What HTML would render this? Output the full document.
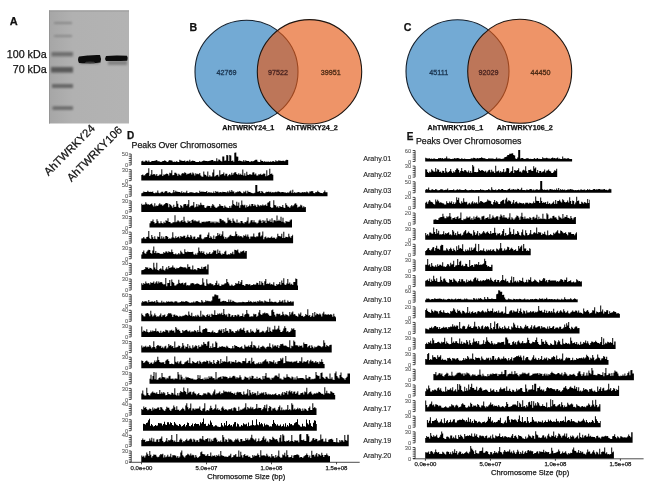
<!DOCTYPE html>
<html><head><meta charset="utf-8"><style>
html,body{margin:0;padding:0;background:#fff;}
body{width:650px;height:491px;overflow:hidden;}
svg{display:block;filter:blur(0.45px);}
text{font-family:"Liberation Sans",sans-serif;}
.pl{font-size:11px;font-weight:bold;fill:#111;}
.pl2{font-size:10px;font-weight:bold;fill:#111;}
.kda{font-size:10.7px;fill:#111;}
.rl{font-size:11.2px;}
.vn{font-size:7.2px;fill:#222;}
.vl{font-size:7.2px;font-weight:bold;fill:#111;}
.tt{font-size:8.8px;fill:#222;}
.chr{font-size:7.15px;fill:#2a2a2a;color:#2a2a2a;}
.yl{font-size:5.8px;fill:#555;color:#555;}
.xl{font-size:6px;fill:#444;}
.xt{font-size:7.6px;fill:#222;}
.ax{stroke:#000;stroke-width:0.7;}
path{fill:#000;}
.bd{fill:#0d0d0d;}
text{stroke:currentColor;stroke-width:0.25px;}
.pl,.pl2,.kda,.tt,.chr,.xt,.vl{color:#111;}
.chr{stroke-width:0.12px;}
.yl{stroke-width:0.05px;}
.xl{stroke-width:0.25px;}
.vn{stroke-width:0.3px;}
</style></head><body>
<svg width="650" height="491" viewBox="0 0 650 491">

<text x="9.8" y="24.8" class="pl">A</text>
<defs>
 <filter id="bl1" x="-20%" y="-50%" width="140%" height="200%"><feGaussianBlur stdDeviation="0.9"/></filter>
 <filter id="bl2" x="-20%" y="-50%" width="140%" height="200%"><feGaussianBlur stdDeviation="0.7"/></filter>
 <linearGradient id="blotg" x1="0" y1="0" x2="1" y2="0">
  <stop offset="0" stop-color="#a6a6a6"/><stop offset="0.3" stop-color="#b1b1b1"/><stop offset="1" stop-color="#b3b3b3"/>
 </linearGradient>
</defs>
<rect x="49" y="10.5" width="80" height="113" fill="url(#blotg)"/>
<rect x="49" y="10.5" width="80" height="0.8" fill="#8a8a8a"/>
<rect x="49" y="10.5" width="0.9" height="113" fill="#949494"/>
<g filter="url(#bl1)">
 <rect x="54" y="22" width="18" height="2" fill="#878787"/>
 <rect x="54" y="35" width="18" height="2" fill="#898989"/>
 <rect x="51.5" y="52" width="21.5" height="4.4" fill="#6e6e6e"/>
 <rect x="51" y="67" width="22" height="5.6" fill="#5a5a5a"/>
 <rect x="52" y="84" width="21" height="4" fill="#686868"/>
 <rect x="52.5" y="106.3" width="20.5" height="3.6" fill="#6c6c6c"/>
 <rect x="108" y="60.5" width="19" height="4.5" fill="#828282"/>
 <rect x="80" y="61" width="19" height="2.5" fill="#6a6a6a"/>
</g>
<g filter="url(#bl2)">
 <path class="bd" d="M79 56.6 Q89 54.8 100 55.1 Q101.6 58.5 100.5 62.4 Q90 63.8 79 63 Q77 59.8 79 56.6 Z"/>
 <path class="bd" d="M106 55.9 Q116 55 127 55.8 Q128.4 58.2 127.2 60.7 Q116 61.4 106 60.9 Q104.3 58.4 106 55.9 Z"/>
</g>
<ellipse cx="90" cy="62.3" rx="5" ry="0.9" fill="#3a3a3a" filter="url(#bl2)"/>
<text x="46.6" y="57.5" class="kda" text-anchor="end">100 kDa</text>
<text x="46.6" y="73.2" class="kda" text-anchor="end">70 kDa</text>
<text transform="translate(48.6,176.2) rotate(-45)" class="kda rl">AhTWRKY24</text>
<text transform="translate(71.4,182.2) rotate(-45)" class="kda rl">AhTWRKY106</text>

<text x="189.6" y="30.9" class="pl" style="font-size:10.6px">B</text>
<circle cx="246.5" cy="71.8" r="51.5" fill="#73aad4" stroke="#14202e" stroke-width="1.1"/>
<circle cx="309.5" cy="71.8" r="52.2" fill="rgb(229,90,23)" fill-opacity="0.65"/>
<circle cx="309.5" cy="71.8" r="52.2" fill="none" stroke="#1e1510" stroke-width="1.1"/>
<text x="226.4" y="74.9" class="vn" text-anchor="middle" style="fill:#1b3550;color:#1b3550">42769</text>
<text x="278.0" y="74.9" class="vn" text-anchor="middle" style="fill:#4a2420;color:#4a2420">97522</text>
<text x="330.7" y="74.9" class="vn" text-anchor="middle" style="fill:#4d2b15;color:#4d2b15">39951</text>
<text x="248.2" y="130.3" class="vl" text-anchor="middle">AhTWRKY24_1</text>
<text x="311.9" y="130.3" class="vl" text-anchor="middle">AhTWRKY24_2</text>
<text x="403.7" y="30.9" class="pl" style="font-size:10.6px">C</text>
<circle cx="457.5" cy="71.3" r="51.5" fill="#73aad4" stroke="#14202e" stroke-width="1.1"/>
<circle cx="519.7" cy="71.3" r="52.0" fill="rgb(229,90,23)" fill-opacity="0.65"/>
<circle cx="519.7" cy="71.3" r="52.0" fill="none" stroke="#1e1510" stroke-width="1.1"/>
<text x="438.8" y="74.9" class="vn" text-anchor="middle" style="fill:#1b3550;color:#1b3550">45111</text>
<text x="488.6" y="74.9" class="vn" text-anchor="middle" style="fill:#4a2420;color:#4a2420">92029</text>
<text x="540.4" y="74.9" class="vn" text-anchor="middle" style="fill:#4d2b15;color:#4d2b15">44450</text>
<text x="455.4" y="130.3" class="vl" text-anchor="middle">AhTWRKY106_1</text>
<text x="524.7" y="130.3" class="vl" text-anchor="middle">AhTWRKY106_2</text>
<text x="127" y="138.9" class="pl2">D</text>
<text x="131.6" y="147.6" class="tt">Peaks Over Chromosomes</text>
<text x="406.7" y="140.1" class="pl2">E</text>
<text x="415.9" y="144.4" class="tt">Peaks Over Chromosomes</text>
<path d="M141.3 165.0V161.3h1V160.8h1V161.7h1V161.4h1V160.4h1V160.8h1V161.8h1V160.6h1V161.8h1V162.0h1V161.1h1V161.1h1V160.9h1V160.8h1V160.6h1V160.1h1V161.2h1V161.2h1V161.4h1V161.9h1V161.8h1V161.1h1V161.1h1V160.2h1V161.0h1V161.7h1V162.0h1V160.7h1V160.0h1V160.6h1V160.6h1V161.4h1V161.9h1V161.6h1V162.0h1V161.1h1V161.9h1V162.1h1V159.7h1V160.6h1V160.8h1V160.9h1V161.0h1V160.4h1V161.8h1V160.9h1V160.7h1V161.5h1V159.8h1V161.6h1V161.1h1V160.6h1V161.0h1V161.0h1V161.9h1V162.0h1V162.1h1V162.0h1V161.0h1V161.9h1V161.5h1V161.0h1V160.6h1V160.8h1V161.0h1V161.1h1V161.2h1V161.0h1V160.8h1V160.6h1V160.0h1V159.9h1V161.2h1V161.1h1V161.2h1V158.3h1V161.2h1V159.5h1V159.7h1V161.0h1V161.4h1V156.6h1V156.5h1V160.7h1V160.6h1V155.1h1V155.3h1V161.0h1V155.1h1V155.4h1V161.0h1V160.6h1V161.8h1V152.8h1V152.6h1V156.6h1V156.8h1V161.1h1V160.4h1V161.1h1V161.2h1V161.5h1V160.1h1V161.6h1V160.2h1V161.0h1V161.0h1V161.0h1V161.9h1V161.5h1V161.0h1V161.5h1V161.1h1V160.2h1V159.8h1V159.7h1V161.6h1V162.0h1V162.1h1V159.7h1V161.1h1V161.0h1V161.9h1V161.1h1V161.9h1V161.4h1V161.7h1V161.4h1V162.0h1V161.3h1V161.9h1V160.9h1V161.3h1V161.9h1V160.2h1V161.3h1V161.2h1V160.2h1V160.7h1V160.7h1V161.0h1V160.8h1V160.7h1V161.3h1V160.2h1V159.8h1V160.1h0.9V165.0Z"/>
<line x1="131.2" y1="154.0" x2="131.2" y2="165.0" class="ax"/>
<line x1="128.8" y1="165.00" x2="131.2" y2="165.00" class="ax"/>
<line x1="128.8" y1="162.80" x2="131.2" y2="162.80" class="ax"/>
<line x1="128.8" y1="160.60" x2="131.2" y2="160.60" class="ax"/>
<line x1="128.8" y1="158.40" x2="131.2" y2="158.40" class="ax"/>
<line x1="128.8" y1="156.20" x2="131.2" y2="156.20" class="ax"/>
<line x1="128.8" y1="154.00" x2="131.2" y2="154.00" class="ax"/>
<text x="128.2" y="156.0" class="yl" text-anchor="end">50</text>
<text x="128.2" y="167.0" class="yl" text-anchor="end">0</text>
<text x="363.2" y="161.2" class="chr">Arahy.01</text>
<path d="M141.3 180.6V175.1h1V174.4h1V175.4h1V175.3h1V174.1h1V172.9h1V172.8h1V168.3h1V176.1h1V174.4h1V169.9h1V174.8h1V174.0h1V174.2h1V175.6h1V174.1h1V176.0h1V175.5h1V174.6h1V174.5h1V169.3h1V176.0h1V174.6h1V174.8h1V174.0h1V173.5h1V174.1h1V175.4h1V172.7h1V173.2h1V170.2h1V175.3h1V175.1h1V172.8h1V172.8h1V173.7h1V175.7h1V173.7h1V174.7h1V175.6h1V173.8h1V173.0h1V173.4h1V172.2h1V172.9h1V174.6h1V173.7h1V173.7h1V173.3h1V172.8h1V174.6h1V172.5h1V173.6h1V175.4h1V173.2h1V174.2h1V173.8h1V174.3h1V172.9h1V175.5h1V176.6h1V176.8h1V171.6h1V174.4h1V175.0h1V176.3h1V171.6h1V176.8h1V175.2h1V176.5h1V176.5h1V172.6h1V169.5h1V176.4h1V175.7h1V175.0h1V174.8h1V176.4h1V170.2h1V174.8h1V174.2h1V174.0h1V172.4h1V175.4h1V173.8h1V173.7h1V176.3h1V175.1h1V174.1h1V175.2h1V172.8h1V174.8h1V173.2h1V172.3h1V172.3h1V174.0h1V174.7h1V173.3h1V174.7h1V173.8h1V174.9h1V169.6h1V175.6h1V173.3h1V175.8h1V171.8h1V174.8h1V175.0h1V174.1h1V174.6h1V174.8h1V172.5h1V172.2h1V174.5h1V173.4h1V175.6h1V175.6h1V174.3h1V174.5h1V173.7h1V174.9h1V174.3h1V173.4h1V173.7h1V176.2h1V170.2h1V175.8h1V174.9h1V168.8h1V174.0h1V173.5h1V174.7h1V180.6Z"/>
<line x1="131.2" y1="169.6" x2="131.2" y2="180.6" class="ax"/>
<line x1="128.8" y1="180.63" x2="131.2" y2="180.63" class="ax"/>
<line x1="128.8" y1="178.43" x2="131.2" y2="178.43" class="ax"/>
<line x1="128.8" y1="176.23" x2="131.2" y2="176.23" class="ax"/>
<line x1="128.8" y1="174.03" x2="131.2" y2="174.03" class="ax"/>
<line x1="128.8" y1="171.83" x2="131.2" y2="171.83" class="ax"/>
<line x1="128.8" y1="169.63" x2="131.2" y2="169.63" class="ax"/>
<text x="128.2" y="171.6" class="yl" text-anchor="end">30</text>
<text x="128.2" y="182.6" class="yl" text-anchor="end">0</text>
<text x="363.2" y="176.8" class="chr">Arahy.02</text>
<path d="M141.3 196.3V193.2h1V192.8h1V191.6h1V191.9h1V191.9h1V192.0h1V190.7h1V191.7h1V191.9h1V191.8h1V192.0h1V191.4h1V192.9h1V193.2h1V192.6h1V192.7h1V190.6h1V192.8h1V193.2h1V192.5h1V191.7h1V191.8h1V193.0h1V191.8h1V191.1h1V191.2h1V192.7h1V192.4h1V192.0h1V193.0h1V193.3h1V192.5h1V190.0h1V192.3h1V190.7h1V191.7h1V191.8h1V192.0h1V192.1h1V192.7h1V191.3h1V193.1h1V192.1h1V192.8h1V192.4h1V190.8h1V193.0h1V193.0h1V192.2h1V192.3h1V192.2h1V192.5h1V192.8h1V192.9h1V192.5h1V192.2h1V192.8h1V192.9h1V190.8h1V191.9h1V191.5h1V191.8h1V191.7h1V192.1h1V192.1h1V191.1h1V192.9h1V191.9h1V192.5h1V192.4h1V192.6h1V192.9h1V191.4h1V193.1h1V191.1h1V191.9h1V191.6h1V192.4h1V192.3h1V191.9h1V192.5h1V191.7h1V192.1h1V192.1h1V192.3h1V192.4h1V191.2h1V192.4h1V190.6h1V192.1h1V190.1h1V191.6h1V191.5h1V193.2h1V192.3h1V192.3h1V191.6h1V191.7h1V191.0h1V192.0h1V193.1h1V193.3h1V191.6h1V192.2h1V190.7h1V193.3h1V190.7h1V192.1h1V192.0h1V192.5h1V193.1h1V193.3h1V193.3h1V192.7h1V185.0h1V185.1h1V191.7h1V191.4h1V190.9h1V192.9h1V191.1h1V191.7h1V193.0h1V193.3h1V192.3h1V191.8h1V192.1h1V191.4h1V192.3h1V191.8h1V192.8h1V192.1h1V192.4h1V192.2h1V191.7h1V192.2h1V191.4h1V191.5h1V192.1h1V192.5h1V191.9h1V192.0h1V192.2h1V192.5h1V192.6h1V192.9h1V192.2h1V192.7h1V191.6h1V190.6h1V192.8h1V189.7h1V192.9h1V192.1h1V193.0h1V192.4h1V192.3h1V192.1h1V192.5h1V192.8h1V192.5h1V192.1h1V192.5h1V191.9h1V192.4h1V191.5h1V192.3h1V193.2h1V191.5h1V191.5h1V191.1h1V191.3h1V193.0h1V193.2h1V192.0h1V192.3h1V190.7h1V192.1h1V192.5h1V193.1h1V193.0h1V193.3h1V192.1h1V190.5h1V192.2h1V192.2h1.2V196.3Z"/>
<line x1="131.2" y1="185.3" x2="131.2" y2="196.3" class="ax"/>
<line x1="128.8" y1="196.26" x2="131.2" y2="196.26" class="ax"/>
<line x1="128.8" y1="194.06" x2="131.2" y2="194.06" class="ax"/>
<line x1="128.8" y1="191.86" x2="131.2" y2="191.86" class="ax"/>
<line x1="128.8" y1="189.66" x2="131.2" y2="189.66" class="ax"/>
<line x1="128.8" y1="187.46" x2="131.2" y2="187.46" class="ax"/>
<line x1="128.8" y1="185.26" x2="131.2" y2="185.26" class="ax"/>
<text x="128.2" y="187.3" class="yl" text-anchor="end">50</text>
<text x="128.2" y="198.3" class="yl" text-anchor="end">0</text>
<text x="363.2" y="192.5" class="chr">Arahy.03</text>
<path d="M141.3 211.9V203.7h1V205.1h1V204.4h1V204.4h1V202.2h1V203.8h1V204.5h1V204.2h1V205.1h1V204.1h1V203.6h1V205.2h1V206.6h1V203.2h1V206.2h1V205.6h1V206.1h1V204.4h1V203.2h1V204.4h1V204.4h1V205.8h1V204.8h1V204.0h1V202.9h1V202.9h1V203.6h1V207.2h1V204.1h1V205.1h1V206.2h1V207.7h1V204.8h1V206.9h1V206.8h1V200.9h1V203.8h1V207.2h1V207.9h1V205.0h1V206.0h1V207.5h1V204.6h1V203.9h1V203.9h1V205.8h1V204.2h1V200.0h1V207.2h1V205.9h1V205.5h1V205.6h1V202.1h1V207.4h1V206.8h1V204.1h1V206.5h1V204.5h1V205.2h1V202.7h1V204.7h1V205.2h1V205.1h1V207.4h1V207.9h1V206.5h1V205.7h1V206.0h1V206.1h1V207.7h1V205.8h1V204.0h1V205.2h1V206.7h1V207.8h1V207.7h1V206.8h1V206.3h1V204.1h1V205.4h1V206.0h1V206.1h1V207.7h1V205.4h1V206.7h1V207.6h1V207.8h1V208.0h1V205.9h1V207.7h1V205.5h1V200.2h1V204.0h1V205.0h1V205.7h1V201.8h1V205.7h1V202.5h1V207.8h1V205.3h1V200.5h1V204.7h1V205.4h1V204.8h1V207.4h1V205.2h1V207.0h1V205.9h1V204.5h1V206.2h1V203.9h1V204.0h1V206.0h1V204.6h1V205.4h1V207.1h1V204.5h1V205.3h1V206.3h1V205.1h1V205.8h1V204.4h1V205.6h1V205.3h1V204.4h1V205.9h1V202.7h1V202.2h1V201.1h1V207.1h1V207.9h1V207.5h1V200.3h1V205.0h1V205.6h1V207.2h1V206.3h1V207.7h1V205.9h1V206.7h1V207.1h1V205.1h1V207.5h1V208.0h1V203.3h1V205.1h1V206.5h1V206.8h1V207.8h1V206.3h1V204.9h1V206.2h1V205.3h1V203.8h1V203.3h1V204.8h1V207.4h1V206.7h1V206.6h1V204.8h1V205.5h1V207.6h1V206.3h1V207.2h1V207.1h0.6V211.9Z"/>
<line x1="131.2" y1="200.9" x2="131.2" y2="211.9" class="ax"/>
<line x1="128.8" y1="211.89" x2="131.2" y2="211.89" class="ax"/>
<line x1="128.8" y1="209.69" x2="131.2" y2="209.69" class="ax"/>
<line x1="128.8" y1="207.49" x2="131.2" y2="207.49" class="ax"/>
<line x1="128.8" y1="205.29" x2="131.2" y2="205.29" class="ax"/>
<line x1="128.8" y1="203.09" x2="131.2" y2="203.09" class="ax"/>
<line x1="128.8" y1="200.89" x2="131.2" y2="200.89" class="ax"/>
<text x="128.2" y="202.9" class="yl" text-anchor="end">30</text>
<text x="128.2" y="213.9" class="yl" text-anchor="end">0</text>
<text x="363.2" y="208.1" class="chr">Arahy.04</text>
<path d="M149.5 227.5V223.2h1V221.2h1V221.2h1V219.4h1V222.0h1V223.4h1V223.1h1V219.2h1V221.2h1V223.2h1V223.3h1V221.3h1V223.0h1V223.6h1V221.8h1V223.0h1V220.2h1V220.9h1V218.2h1V221.9h1V222.0h1V223.3h1V223.3h1V222.2h1V222.3h1V215.2h1V222.2h1V221.4h1V220.2h1V221.2h1V222.2h1V220.9h1V219.9h1V221.9h1V216.8h1V221.2h1V222.6h1V222.9h1V220.6h1V221.7h1V221.0h1V222.9h1V220.1h1V219.5h1V221.3h1V220.3h1V221.3h1V221.5h1V221.6h1V220.5h1V222.7h1V223.3h1V221.7h1V222.0h1V221.5h1V222.3h1V221.6h1V221.6h1V221.6h1V221.0h1V221.3h1V222.8h1V221.6h1V222.4h1V221.4h1V223.3h1V221.5h1V222.4h1V221.8h1V223.1h1V218.7h1V218.9h1V220.5h1V220.1h1V221.2h1V221.7h1V223.3h1V222.7h1V217.8h1V220.3h1V219.5h1V220.9h1V223.1h1V218.6h1V220.7h1V221.7h1V223.1h1V219.6h1V222.9h1V222.2h1V223.3h1V221.1h1V220.9h1V222.7h1V223.5h1V222.1h1V222.3h1V220.7h1V217.2h1V223.6h1V222.4h1V220.4h1V220.0h1V222.2h1V220.2h1V222.3h1V222.4h1V223.4h1V222.7h1V220.5h1V219.6h1V220.7h1V223.1h1V220.1h1V221.4h1V220.4h1V223.1h1V218.2h1V220.8h1V221.3h1V219.4h1V222.1h1V218.2h1V222.4h1V220.2h1V220.2h1V221.2h1V215.4h1V221.1h1V219.7h1V221.1h1V216.8h1V221.8h1V217.8h1V222.3h1V223.2h1V221.1h1V221.7h1V221.4h1V222.1h1V220.4h1V219.5h1.5V227.5Z"/>
<line x1="131.2" y1="216.5" x2="131.2" y2="227.5" class="ax"/>
<line x1="128.8" y1="227.52" x2="131.2" y2="227.52" class="ax"/>
<line x1="128.8" y1="225.32" x2="131.2" y2="225.32" class="ax"/>
<line x1="128.8" y1="223.12" x2="131.2" y2="223.12" class="ax"/>
<line x1="128.8" y1="220.92" x2="131.2" y2="220.92" class="ax"/>
<line x1="128.8" y1="218.72" x2="131.2" y2="218.72" class="ax"/>
<line x1="128.8" y1="216.52" x2="131.2" y2="216.52" class="ax"/>
<text x="128.2" y="218.5" class="yl" text-anchor="end">30</text>
<text x="128.2" y="229.5" class="yl" text-anchor="end">0</text>
<text x="363.2" y="223.7" class="chr">Arahy.05</text>
<path d="M141.3 243.2V238.6h1V238.2h1V237.1h1V238.4h1V238.7h1V236.9h1V236.8h1V231.0h1V238.3h1V239.1h1V235.1h1V237.2h1V238.9h1V236.3h1V238.7h1V239.2h1V236.6h1V237.1h1V232.0h1V238.7h1V236.3h1V238.4h1V236.8h1V238.8h1V236.1h1V236.1h1V237.0h1V238.9h1V238.2h1V238.8h1V237.5h1V232.2h1V237.5h1V238.3h1V236.2h1V238.1h1V237.1h1V236.4h1V238.2h1V236.1h1V236.8h1V236.8h1V235.7h1V235.7h1V238.0h1V236.7h1V234.7h1V236.9h1V237.4h1V234.9h1V236.5h1V238.8h1V236.7h1V236.6h1V238.9h1V238.5h1V237.1h1V237.5h1V234.8h1V234.4h1V238.4h1V239.2h1V238.4h1V237.2h1V237.2h1V236.9h1V234.8h1V232.4h1V238.0h1V236.3h1V237.5h1V239.0h1V235.4h1V238.9h1V236.5h1V236.0h1V232.9h1V235.3h1V233.8h1V235.9h1V234.6h1V231.3h1V236.5h1V238.7h1V236.9h1V238.6h1V237.4h1V236.8h1V235.5h1V234.7h1V236.1h1V236.1h1V236.2h1V235.7h1V231.6h1V234.1h1V236.3h1V235.5h1V236.5h1V235.9h1V236.4h1V237.4h1V235.2h1V236.1h1V234.6h1V236.5h1V234.5h1V236.7h1V238.8h1V236.4h1V236.5h1V236.5h1V233.6h1V236.7h1V237.3h1V236.3h1V236.4h1V232.7h1V232.2h1V236.5h1V235.6h1V231.4h1V239.2h1V237.2h1V236.6h1V238.3h1V237.6h1V237.4h1V238.0h1V237.5h1V236.5h1V238.0h1V237.4h1V237.8h1V239.0h1V237.5h1V233.8h1V236.1h1V236.2h1V236.5h1V233.7h1V238.1h1V231.7h1V237.9h1V236.7h1V236.9h1V237.3h1V233.7h1V236.6h1V237.7h1V236.0h1V234.8h0.8V243.2Z"/>
<line x1="131.2" y1="232.2" x2="131.2" y2="243.2" class="ax"/>
<line x1="128.8" y1="243.15" x2="131.2" y2="243.15" class="ax"/>
<line x1="128.8" y1="240.95" x2="131.2" y2="240.95" class="ax"/>
<line x1="128.8" y1="238.75" x2="131.2" y2="238.75" class="ax"/>
<line x1="128.8" y1="236.55" x2="131.2" y2="236.55" class="ax"/>
<line x1="128.8" y1="234.35" x2="131.2" y2="234.35" class="ax"/>
<line x1="128.8" y1="232.15" x2="131.2" y2="232.15" class="ax"/>
<text x="128.2" y="234.2" class="yl" text-anchor="end">30</text>
<text x="128.2" y="245.2" class="yl" text-anchor="end">0</text>
<text x="363.2" y="239.3" class="chr">Arahy.06</text>
<path d="M141.3 258.8V254.6h1V252.0h1V250.5h1V253.3h1V253.7h1V251.8h1V250.5h1V249.8h1V250.0h1V253.1h1V253.8h1V250.4h1V246.6h1V253.0h1V251.1h1V253.3h1V252.7h1V253.1h1V253.4h1V254.0h1V253.8h1V253.8h1V252.0h1V253.0h1V251.6h1V251.4h1V252.8h1V251.3h1V252.1h1V252.2h1V249.6h1V251.9h1V254.0h1V254.2h1V253.5h1V254.5h1V254.3h1V252.9h1V254.2h1V250.8h1V252.3h1V253.5h1V253.9h1V249.2h1V251.9h1V252.3h1V251.5h1V252.1h1V252.0h1V252.1h1V252.0h1V251.7h1V254.3h1V254.8h1V253.4h1V254.7h1V252.8h1V247.4h1V250.9h1V252.4h1V251.1h1V252.9h1V251.6h1V254.0h1V254.8h1V252.7h1V254.1h1V253.6h1V252.1h1V254.0h1V253.4h1V252.3h1V250.2h1V250.7h1V250.6h1V254.1h1V249.5h1V253.0h1V250.8h1V253.6h1V254.7h1V253.4h1V254.1h1V251.7h1V250.7h1V254.5h1V254.8h1V253.9h1V254.6h1V253.1h1V253.8h1V251.7h1V254.2h1V249.7h1V250.0h1V250.5h1V249.6h1V252.4h1V253.2h1V251.4h1V251.8h1V250.9h1V250.5h1V252.5h1V251.1h1V251.1h0.5V258.8Z"/>
<line x1="131.2" y1="247.8" x2="131.2" y2="258.8" class="ax"/>
<line x1="128.8" y1="258.78" x2="131.2" y2="258.78" class="ax"/>
<line x1="128.8" y1="256.58" x2="131.2" y2="256.58" class="ax"/>
<line x1="128.8" y1="254.38" x2="131.2" y2="254.38" class="ax"/>
<line x1="128.8" y1="252.18" x2="131.2" y2="252.18" class="ax"/>
<line x1="128.8" y1="249.98" x2="131.2" y2="249.98" class="ax"/>
<line x1="128.8" y1="247.78" x2="131.2" y2="247.78" class="ax"/>
<text x="128.2" y="249.8" class="yl" text-anchor="end">30</text>
<text x="128.2" y="260.8" class="yl" text-anchor="end">0</text>
<text x="363.2" y="255.0" class="chr">Arahy.07</text>
<path d="M141.3 274.4V270.2h1V269.9h1V269.8h1V269.1h1V266.9h1V267.5h1V267.4h1V269.1h1V267.8h1V268.0h1V268.7h1V269.7h1V262.7h1V267.5h1V269.2h1V262.8h1V270.0h1V270.5h1V268.9h1V268.2h1V269.6h1V266.1h1V269.7h1V270.4h1V268.8h1V267.2h1V269.3h1V266.1h1V268.0h1V267.6h1V267.2h1V265.4h1V267.6h1V267.8h1V269.0h1V267.8h1V268.3h1V268.1h1V266.9h1V266.5h1V267.1h1V267.2h1V267.6h1V267.3h1V267.4h1V268.5h1V264.2h1V267.0h1V266.7h1V269.2h1V269.4h1V265.5h1V269.7h1V269.0h1V269.6h1V270.2h1V268.1h1V268.0h1V268.7h1V269.1h1V266.7h1V268.8h1V267.0h1V266.7h1V266.2h1V269.3h1V264.4h1.3V274.4Z"/>
<line x1="131.2" y1="263.4" x2="131.2" y2="274.4" class="ax"/>
<line x1="128.8" y1="274.41" x2="131.2" y2="274.41" class="ax"/>
<line x1="128.8" y1="272.21" x2="131.2" y2="272.21" class="ax"/>
<line x1="128.8" y1="270.01" x2="131.2" y2="270.01" class="ax"/>
<line x1="128.8" y1="267.81" x2="131.2" y2="267.81" class="ax"/>
<line x1="128.8" y1="265.61" x2="131.2" y2="265.61" class="ax"/>
<line x1="128.8" y1="263.41" x2="131.2" y2="263.41" class="ax"/>
<text x="128.2" y="265.4" class="yl" text-anchor="end">30</text>
<text x="128.2" y="276.4" class="yl" text-anchor="end">0</text>
<text x="363.2" y="270.6" class="chr">Arahy.08</text>
<path d="M141.3 290.0V283.3h1V284.8h1V283.1h1V283.9h1V281.5h1V283.3h1V283.4h1V283.1h1V284.5h1V282.3h1V283.0h1V282.8h1V281.5h1V283.7h1V282.6h1V281.3h1V283.5h1V281.4h1V282.7h1V282.0h1V282.2h1V283.7h1V284.6h1V284.3h1V278.1h1V286.2h1V283.1h1V283.0h1V279.9h1V285.9h1V279.4h1V282.0h1V283.1h1V285.6h1V285.5h1V284.4h1V283.7h1V279.8h1V282.9h1V283.8h1V283.1h1V282.8h1V284.4h1V283.1h1V282.6h1V285.5h1V285.1h1V285.6h1V285.3h1V283.5h1V283.3h1V282.9h1V283.5h1V284.6h1V284.0h1V283.6h1V283.6h1V284.0h1V284.7h1V284.9h1V284.5h1V278.3h1V282.4h1V285.5h1V286.1h1V279.3h1V283.5h1V284.3h1V283.3h1V283.2h1V284.3h1V284.2h1V285.4h1V284.9h1V283.1h1V280.8h1V284.9h1V283.4h1V285.7h1V286.0h1V284.5h1V284.7h1V284.5h1V283.5h1V283.2h1V278.9h1V281.9h1V283.4h1V285.4h1V285.8h1V284.6h1V285.5h1V286.1h1V284.9h1V282.9h1V283.7h1V283.5h1V281.1h1V284.1h1V282.3h1V280.0h1V285.0h1V285.0h1V286.0h1V284.3h1V283.9h1V284.3h1V284.7h1V284.1h1V285.4h1V285.1h1V284.9h1V283.9h1V284.7h1V284.5h1V282.8h1V282.9h1V284.8h1V281.1h1V284.7h1V281.6h1V283.1h1V285.2h1V281.2h1V278.9h1V284.1h1V283.6h1V283.9h1V282.7h1V284.4h1V284.0h1V284.8h1V282.2h1V285.4h1V286.1h1V284.0h1V284.7h1V284.1h1V282.0h1V284.7h1V280.5h1V283.1h1V278.2h1V284.4h1V285.1h1V283.6h1V279.1h1V283.7h1V282.5h1V284.4h1V283.7h1V285.0h1V282.0h1V282.0h1V278.6h1V279.0h1V285.5h0.7V290.0Z"/>
<line x1="131.2" y1="279.0" x2="131.2" y2="290.0" class="ax"/>
<line x1="128.8" y1="290.04" x2="131.2" y2="290.04" class="ax"/>
<line x1="128.8" y1="287.84" x2="131.2" y2="287.84" class="ax"/>
<line x1="128.8" y1="285.64" x2="131.2" y2="285.64" class="ax"/>
<line x1="128.8" y1="283.44" x2="131.2" y2="283.44" class="ax"/>
<line x1="128.8" y1="281.24" x2="131.2" y2="281.24" class="ax"/>
<line x1="128.8" y1="279.04" x2="131.2" y2="279.04" class="ax"/>
<text x="128.2" y="281.0" class="yl" text-anchor="end">30</text>
<text x="128.2" y="292.0" class="yl" text-anchor="end">0</text>
<text x="363.2" y="286.2" class="chr">Arahy.09</text>
<path d="M141.3 305.7V302.6h1V301.0h1V301.9h1V301.3h1V301.3h1V301.5h1V302.4h1V300.0h1V301.9h1V301.7h1V301.4h1V301.6h1V301.9h1V300.9h1V302.4h1V300.1h1V301.7h1V302.5h1V302.4h1V302.4h1V300.7h1V302.4h1V301.8h1V302.6h1V302.5h1V301.2h1V302.0h1V301.3h1V302.0h1V301.4h1V301.6h1V301.7h1V302.6h1V301.6h1V301.2h1V301.4h1V302.5h1V302.5h1V302.2h1V302.0h1V301.1h1V301.7h1V301.6h1V301.9h1V301.0h1V301.2h1V301.8h1V302.3h1V302.7h1V302.7h1V302.2h1V302.6h1V301.4h1V302.5h1V301.6h1V300.9h1V301.2h1V301.9h1V302.2h1V302.5h1V299.9h1V301.4h1V302.5h1V301.9h1V300.2h1V301.3h1V300.7h1V301.2h1V301.3h1V301.4h1V300.6h1V296.4h1V296.5h1V294.5h1V294.5h1V295.2h1V295.2h1V298.7h1V298.5h1V301.8h1V301.6h1V301.1h1V300.7h1V301.2h1V301.0h1V301.9h1V301.9h1V299.5h1V301.8h1V299.7h1V302.1h1V300.8h1V301.3h1V301.9h1V302.2h1V302.4h1V302.6h1V302.2h1V302.2h1V302.2h1V302.3h1V301.7h1V302.1h1V302.3h1V302.3h1V302.0h1V302.0h1V300.6h1V301.9h1V301.1h1V302.0h1V302.6h1V301.6h1V302.1h1V301.6h1V302.5h1V301.1h1V301.7h1V300.2h1V301.4h1V301.3h1V301.4h1V302.5h1V300.6h1V301.3h1V301.7h1V301.8h1V302.0h1V298.8h1V301.7h1V301.5h1V302.0h1V302.2h1V301.7h1V301.8h1V302.6h1V302.7h1V301.9h1V300.3h1V301.8h1V301.5h1V300.2h1V302.4h1V299.7h1V302.2h1V302.6h1V300.5h1V301.7h1V302.1h1V301.1h1V302.2h1V301.4h1.5V305.7Z"/>
<line x1="131.2" y1="294.7" x2="131.2" y2="305.7" class="ax"/>
<line x1="128.8" y1="305.67" x2="131.2" y2="305.67" class="ax"/>
<line x1="128.8" y1="303.47" x2="131.2" y2="303.47" class="ax"/>
<line x1="128.8" y1="301.27" x2="131.2" y2="301.27" class="ax"/>
<line x1="128.8" y1="299.07" x2="131.2" y2="299.07" class="ax"/>
<line x1="128.8" y1="296.87" x2="131.2" y2="296.87" class="ax"/>
<line x1="128.8" y1="294.67" x2="131.2" y2="294.67" class="ax"/>
<text x="128.2" y="296.7" class="yl" text-anchor="end">60</text>
<text x="128.2" y="307.7" class="yl" text-anchor="end">0</text>
<text x="363.2" y="301.9" class="chr">Arahy.10</text>
<path d="M141.3 321.3V313.5h1V315.0h1V316.3h1V316.4h1V313.7h1V313.3h1V313.0h1V314.3h1V316.3h1V310.8h1V314.5h1V316.5h1V315.4h1V313.5h1V315.3h1V316.7h1V316.2h1V316.6h1V315.3h1V313.5h1V316.7h1V315.3h1V315.2h1V314.6h1V316.9h1V315.9h1V314.3h1V313.0h1V313.6h1V313.2h1V314.4h1V316.9h1V314.7h1V314.5h1V315.8h1V315.3h1V315.9h1V316.9h1V315.7h1V316.2h1V316.6h1V315.8h1V315.7h1V315.3h1V314.6h1V314.9h1V315.8h1V311.6h1V314.7h1V316.0h1V312.8h1V316.5h1V315.9h1V316.6h1V315.2h1V316.5h1V314.8h1V315.7h1V316.9h1V310.7h1V316.4h1V314.5h1V315.2h1V315.7h1V317.1h1V315.1h1V314.2h1V316.1h1V314.6h1V316.9h1V313.7h1V314.5h1V315.1h1V310.3h1V315.1h1V315.0h1V313.4h1V314.3h1V313.2h1V314.3h1V312.7h1V314.9h1V309.0h1V314.1h1V315.2h1V314.2h1V316.7h1V313.6h1V313.9h1V316.8h1V315.5h1V315.0h1V316.9h1V315.3h1V315.1h1V316.2h1V314.4h1V314.8h1V316.4h1V316.1h1V316.1h1V313.5h1V316.7h1V314.8h1V313.9h1V309.9h1V313.6h1V314.2h1V316.8h1V316.6h1V316.2h1V316.6h1V313.8h1V314.6h1V314.1h1V316.8h1V315.8h1V312.5h1V310.1h1V314.2h1V315.0h1V313.5h1V313.3h1V312.5h1V313.4h1V313.0h1V313.6h1V314.8h1V315.9h1V315.7h1V310.2h1V309.5h1V312.1h1V314.8h1V316.6h1V313.8h1V313.8h1V314.2h1V313.8h1V315.6h1V314.9h1V311.8h1V314.3h1V315.4h1V314.2h1V314.8h1V315.3h1V316.2h1V312.1h1V314.4h1V312.4h1V311.5h1V314.4h1V313.9h1V315.5h1V316.1h1V316.8h1V313.4h1V314.6h1V312.5h1V315.9h1V315.7h1V317.0h1V316.1h1V314.0h1V315.1h1V309.3h1V315.8h1V315.0h1V317.0h1V315.7h1V313.1h1V316.7h1V312.0h1V315.3h1V313.6h1V314.1h1V314.7h1V313.4h1V314.5h1V316.6h1V313.6h1V311.8h1V314.5h1V314.3h1V314.7h1V314.5h1V314.2h1V314.9h1V314.1h1V314.7h1V316.8h1V313.8h1V316.3h1V317.3h0.7V321.3Z"/>
<line x1="131.2" y1="310.3" x2="131.2" y2="321.3" class="ax"/>
<line x1="128.8" y1="321.30" x2="131.2" y2="321.30" class="ax"/>
<line x1="128.8" y1="319.10" x2="131.2" y2="319.10" class="ax"/>
<line x1="128.8" y1="316.90" x2="131.2" y2="316.90" class="ax"/>
<line x1="128.8" y1="314.70" x2="131.2" y2="314.70" class="ax"/>
<line x1="128.8" y1="312.50" x2="131.2" y2="312.50" class="ax"/>
<line x1="128.8" y1="310.30" x2="131.2" y2="310.30" class="ax"/>
<text x="128.2" y="312.3" class="yl" text-anchor="end">40</text>
<text x="128.2" y="323.3" class="yl" text-anchor="end">0</text>
<text x="363.2" y="317.5" class="chr">Arahy.11</text>
<path d="M141.3 336.9V326.6h1V331.8h1V330.5h1V331.0h1V331.7h1V329.3h1V332.0h1V332.4h1V332.1h1V330.5h1V331.7h1V330.5h1V331.2h1V331.1h1V328.4h1V331.5h1V330.9h1V331.8h1V332.9h1V330.8h1V332.7h1V331.8h1V330.9h1V332.0h1V329.7h1V330.2h1V330.6h1V332.6h1V330.4h1V330.6h1V329.7h1V330.9h1V330.4h1V332.6h1V326.9h1V328.5h1V329.9h1V329.6h1V331.1h1V332.7h1V333.0h1V329.9h1V331.2h1V330.7h1V329.9h1V329.7h1V331.3h1V331.5h1V330.6h1V332.3h1V331.4h1V331.4h1V331.6h1V329.9h1V331.1h1V332.2h1V330.1h1V332.1h1V325.8h1V331.8h1V332.8h1V329.7h1V329.1h1V329.1h1V328.1h1V328.8h1V332.1h1V331.9h1V332.1h1V332.6h1V331.7h1V330.5h1V332.6h1V331.9h1V332.9h1V333.1h1V332.6h1V330.3h1V329.6h1V330.8h1V329.3h1V332.9h1V329.0h1V331.8h1V328.1h1V331.1h1V330.8h1V332.7h1V329.0h1V329.4h1V331.5h1V330.9h1V332.2h1V332.9h1V331.1h1V331.2h1V329.8h1V331.2h1V329.2h1V328.2h1V329.8h1V329.8h1V327.8h1V331.0h1V332.7h1V330.5h1V330.2h1V332.2h1V332.8h1V329.3h1V331.5h1V330.7h1V332.1h1V332.9h1V331.7h1V328.6h1V330.0h1V329.6h1V332.4h1V332.3h1V331.8h1V330.8h1V331.6h1V332.8h1V331.4h1V330.3h1V326.7h1V331.9h1V327.4h1V330.9h1V332.0h1V329.5h1V329.6h1V325.8h1V329.6h1V329.4h1V328.4h1V325.8h1V329.7h1V332.1h1V332.1h1V330.8h1V328.6h1V326.2h1V328.1h1V331.7h1V330.9h1V332.2h1V332.0h1V330.8h1V328.3h1V329.3h1V328.2h1V330.0h1.3V336.9Z"/>
<line x1="131.2" y1="325.9" x2="131.2" y2="336.9" class="ax"/>
<line x1="128.8" y1="336.93" x2="131.2" y2="336.93" class="ax"/>
<line x1="128.8" y1="334.73" x2="131.2" y2="334.73" class="ax"/>
<line x1="128.8" y1="332.53" x2="131.2" y2="332.53" class="ax"/>
<line x1="128.8" y1="330.33" x2="131.2" y2="330.33" class="ax"/>
<line x1="128.8" y1="328.13" x2="131.2" y2="328.13" class="ax"/>
<line x1="128.8" y1="325.93" x2="131.2" y2="325.93" class="ax"/>
<text x="128.2" y="327.9" class="yl" text-anchor="end">30</text>
<text x="128.2" y="338.9" class="yl" text-anchor="end">0</text>
<text x="363.2" y="333.1" class="chr">Arahy.12</text>
<path d="M141.3 352.6V345.5h1V347.6h1V346.5h1V346.8h1V345.8h1V347.3h1V346.5h1V346.8h1V345.0h1V346.4h1V348.3h1V347.1h1V341.2h1V347.1h1V348.4h1V346.0h1V344.9h1V345.5h1V346.2h1V345.8h1V348.0h1V346.7h1V348.2h1V346.5h1V345.8h1V348.4h1V347.6h1V343.9h1V345.7h1V345.0h1V346.5h1V346.1h1V348.1h1V341.4h1V347.6h1V347.2h1V346.7h1V345.6h1V345.9h1V348.2h1V346.8h1V343.1h1V345.4h1V348.4h1V346.5h1V347.1h1V343.9h1V348.3h1V345.8h1V347.7h1V348.6h1V345.2h1V347.4h1V346.6h1V345.3h1V345.9h1V348.6h1V345.2h1V347.1h1V346.4h1V344.6h1V345.3h1V342.0h1V343.8h1V343.9h1V345.8h1V341.8h1V341.3h1V347.9h1V346.2h1V348.0h1V343.4h1V347.2h1V346.9h1V341.5h1V342.7h1V347.9h1V347.5h1V346.5h1V347.0h1V346.2h1V346.2h1V347.1h1V346.7h1V347.4h1V345.8h1V346.8h1V348.0h1V347.9h1V348.4h1V348.3h1V346.1h1V348.2h1V345.0h1V345.9h1V345.9h1V347.1h1V347.0h1V347.7h1V347.1h1V346.2h1V348.3h1V348.7h1V344.8h1V346.4h1V346.8h1V346.5h1V345.6h1V347.0h1V344.9h1V341.5h1V347.6h1V345.1h1V345.6h1V346.6h1V348.3h1V347.8h1V345.4h1V348.6h1V346.9h1V346.8h1V345.8h1V346.6h1V347.5h1V348.5h1V347.0h1V346.4h1V346.8h1V343.2h1V347.0h1V348.3h1V344.6h1V346.4h1V345.4h1V345.4h1V346.7h1V344.9h1V347.9h1V345.8h1V343.9h1V344.3h1V343.7h1V345.6h1V345.8h1V345.5h1V346.3h1V347.0h1V347.2h1V340.3h1V348.3h1V345.7h1V346.2h1V340.4h1V341.8h1V345.3h1V345.2h1V345.6h1V346.7h1V345.4h1V346.1h1V345.6h1V347.4h1V342.6h1V344.1h1V344.0h1V343.9h1V347.3h1V346.0h1V345.2h1V348.0h1V345.3h1V346.7h1V348.3h1V346.6h1V347.2h1V346.7h1V345.8h1V345.6h1V345.9h1V346.6h1V347.2h1V346.2h1V340.3h1V342.7h1V346.7h1V345.1h1V346.1h1V346.4h1V345.0h1V344.8h1.4V352.6Z"/>
<line x1="131.2" y1="341.6" x2="131.2" y2="352.6" class="ax"/>
<line x1="128.8" y1="352.56" x2="131.2" y2="352.56" class="ax"/>
<line x1="128.8" y1="350.36" x2="131.2" y2="350.36" class="ax"/>
<line x1="128.8" y1="348.16" x2="131.2" y2="348.16" class="ax"/>
<line x1="128.8" y1="345.96" x2="131.2" y2="345.96" class="ax"/>
<line x1="128.8" y1="343.76" x2="131.2" y2="343.76" class="ax"/>
<line x1="128.8" y1="341.56" x2="131.2" y2="341.56" class="ax"/>
<text x="128.2" y="343.6" class="yl" text-anchor="end">30</text>
<text x="128.2" y="354.6" class="yl" text-anchor="end">0</text>
<text x="363.2" y="348.8" class="chr">Arahy.13</text>
<path d="M141.3 368.2V360.4h1V361.1h1V363.1h1V362.2h1V361.0h1V360.5h1V361.6h1V362.2h1V363.9h1V362.7h1V362.6h1V364.0h1V362.4h1V360.4h1V362.0h1V360.6h1V356.8h1V360.0h1V362.1h1V362.4h1V362.6h1V362.3h1V362.3h1V364.0h1V360.8h1V359.7h1V359.2h1V360.9h1V363.9h1V363.9h1V363.4h1V363.9h1V364.3h1V356.4h1V361.8h1V362.6h1V361.3h1V363.5h1V361.7h1V360.8h1V363.8h1V364.3h1V363.9h1V362.4h1V361.8h1V361.3h1V360.2h1V363.0h1V357.7h1V363.2h1V363.5h1V361.0h1V361.9h1V362.7h1V363.1h1V362.3h1V360.9h1V363.7h1V360.7h1V362.1h1V363.5h1V361.9h1V361.5h1V361.4h1V362.0h1V360.6h1V361.1h1V363.4h1V360.8h1V362.3h1V362.3h1V364.0h1V360.1h1V363.1h1V363.9h1V361.9h1V360.0h1V361.0h1V363.7h1V359.1h1V363.0h1V361.2h1V361.8h1V361.2h1V362.1h1V356.3h1V362.2h1V361.6h1V361.2h1V363.4h1V361.6h1V361.9h1V361.7h1V362.4h1V359.9h1V362.7h1V362.3h1V361.6h1V361.9h1V362.4h1V363.3h1V361.0h1V361.0h1V361.2h1V358.3h1V363.3h1V362.8h1V360.9h1V360.8h1V363.5h1V357.8h1V362.0h1V361.1h1V363.7h1V364.3h1V363.2h1V363.4h1V362.2h1V363.9h1V362.3h1V363.4h1V361.7h1V361.3h1V360.3h1V359.3h1V361.5h1V361.5h1V363.5h1V360.9h1V361.6h1V361.8h1V362.2h1V360.3h1V363.6h1V362.2h1V364.0h1V361.6h1V361.0h1V361.1h1V358.3h1V359.6h1V357.7h1V363.2h1V363.0h1V356.1h1V361.2h1V361.5h1V361.4h1V361.8h1V361.8h1V361.5h1V362.5h1V361.7h1V361.4h1V361.4h1V360.8h1V362.9h1V362.8h1V360.9h1V361.4h1V357.2h1V362.7h1V361.5h1V361.4h1V362.1h1V361.2h1V360.1h1V363.5h1V361.3h1V359.8h1V361.6h1V361.0h1V362.4h1V362.4h1V361.0h1V362.5h1V361.9h1V363.8h1V361.6h1V362.0h1V359.2h1V362.0h1V363.9h1.3V368.2Z"/>
<line x1="131.2" y1="357.2" x2="131.2" y2="368.2" class="ax"/>
<line x1="128.8" y1="368.19" x2="131.2" y2="368.19" class="ax"/>
<line x1="128.8" y1="365.99" x2="131.2" y2="365.99" class="ax"/>
<line x1="128.8" y1="363.79" x2="131.2" y2="363.79" class="ax"/>
<line x1="128.8" y1="361.59" x2="131.2" y2="361.59" class="ax"/>
<line x1="128.8" y1="359.39" x2="131.2" y2="359.39" class="ax"/>
<line x1="128.8" y1="357.19" x2="131.2" y2="357.19" class="ax"/>
<text x="128.2" y="359.2" class="yl" text-anchor="end">30</text>
<text x="128.2" y="370.2" class="yl" text-anchor="end">0</text>
<text x="363.2" y="364.4" class="chr">Arahy.14</text>
<path d="M149.5 383.8V378.7h1V374.7h1V379.5h1V376.1h1V371.9h1V379.2h1V372.4h1V379.8h1V379.5h1V377.9h1V377.3h1V378.5h1V373.0h1V377.0h1V377.3h1V377.6h1V379.2h1V377.8h1V378.6h1V376.3h1V375.8h1V378.8h1V378.7h1V378.4h1V379.6h1V378.4h1V378.5h1V378.8h1V372.1h1V374.4h1V379.6h1V374.8h1V376.8h1V379.4h1V378.3h1V379.7h1V376.8h1V377.8h1V377.1h1V378.1h1V378.1h1V378.8h1V378.5h1V378.7h1V379.8h1V379.2h1V379.9h1V379.0h1V375.0h1V378.2h1V375.2h1V379.1h1V378.9h1V378.4h1V379.7h1V377.4h1V379.3h1V377.4h1V379.0h1V376.3h1V377.7h1V376.2h1V376.8h1V378.2h1V378.0h1V379.6h1V371.9h1V379.3h1V377.8h1V377.6h1V376.9h1V376.5h1V378.8h1V376.1h1V376.8h1V376.5h1V376.7h1V377.0h1V378.6h1V378.1h1V376.4h1V377.9h1V377.3h1V376.1h1V375.7h1V376.5h1V378.5h1V376.9h1V378.3h1V377.5h1V375.2h1V377.3h1V379.5h1V379.9h1V378.8h1V376.5h1V376.9h1V378.0h1V377.5h1V379.5h1V376.6h1V378.2h1V375.8h1V376.0h1V379.0h1V377.9h1V378.9h1V376.8h1V378.9h1V377.9h1V377.7h1V378.9h1V379.8h1V376.0h1V378.8h1V375.9h1V372.9h1V377.5h1V377.8h1V377.4h1V378.4h1V379.7h1V377.8h1V378.2h1V377.2h1V375.7h1V375.2h1V375.8h1V377.0h1V373.6h1V378.4h1V378.5h1V379.6h1V379.5h1V376.8h1V377.9h1V377.5h1V374.2h1V376.8h1V376.9h1V377.8h1V378.4h1V376.6h1V377.3h1V379.5h1V377.4h1V379.5h1V376.3h1V378.3h1V378.3h1V378.0h1V378.1h1V378.1h1V378.0h1V378.8h1V379.6h1V375.0h1V378.2h1V378.5h1V376.8h1V377.1h1V379.4h1V378.7h1V379.2h1V378.8h1V378.6h1V372.0h1V375.0h1V376.0h1V375.7h1V378.7h1V373.1h1V372.4h1V377.1h1V377.9h1V379.0h1V376.8h1V376.8h1V378.3h1V378.9h1V373.6h1V378.7h1V377.3h1V379.5h1V379.9h1V373.3h1V371.5h1V376.0h1V377.6h1V378.6h1V375.1h1V372.6h1V377.1h1V378.0h1V378.4h1V379.7h1V378.0h1V376.7h1V373.4h1V373.4h1.5V383.8Z"/>
<line x1="131.2" y1="372.8" x2="131.2" y2="383.8" class="ax"/>
<line x1="128.8" y1="383.82" x2="131.2" y2="383.82" class="ax"/>
<line x1="128.8" y1="381.62" x2="131.2" y2="381.62" class="ax"/>
<line x1="128.8" y1="379.42" x2="131.2" y2="379.42" class="ax"/>
<line x1="128.8" y1="377.22" x2="131.2" y2="377.22" class="ax"/>
<line x1="128.8" y1="375.02" x2="131.2" y2="375.02" class="ax"/>
<line x1="128.8" y1="372.82" x2="131.2" y2="372.82" class="ax"/>
<text x="128.2" y="374.8" class="yl" text-anchor="end">30</text>
<text x="128.2" y="385.8" class="yl" text-anchor="end">0</text>
<text x="363.2" y="380.0" class="chr">Arahy.15</text>
<path d="M141.3 399.5V393.6h1V390.5h1V394.6h1V395.4h1V395.6h1V387.7h1V393.0h1V395.1h1V395.5h1V393.4h1V392.4h1V391.6h1V392.8h1V392.8h1V393.5h1V392.3h1V394.0h1V394.1h1V389.9h1V393.8h1V392.3h1V393.6h1V391.9h1V393.2h1V395.2h1V395.1h1V392.0h1V393.9h1V394.2h1V394.8h1V392.8h1V393.0h1V394.4h1V388.3h1V394.7h1V395.5h1V392.9h1V395.5h1V392.8h1V391.1h1V392.1h1V392.3h1V387.6h1V391.0h1V391.9h1V394.3h1V388.3h1V392.7h1V391.7h1V391.7h1V394.5h1V392.2h1V391.4h1V393.2h1V393.7h1V395.3h1V393.9h1V392.9h1V395.1h1V395.1h1V395.4h1V394.7h1V393.3h1V393.5h1V393.5h1V394.5h1V392.5h1V392.5h1V393.2h1V394.4h1V395.3h1V393.4h1V391.6h1V389.6h1V394.5h1V393.2h1V393.5h1V392.7h1V391.6h1V394.3h1V393.0h1V393.3h1V390.6h1V391.7h1V391.4h1V391.8h1V392.2h1V391.5h1V392.2h1V391.4h1V392.9h1V392.9h1V394.0h1V392.7h1V395.1h1V392.6h1V391.8h1V392.5h1V392.0h1V392.3h1V394.1h1V395.0h1V391.6h1V394.2h1V394.4h1V393.6h1V389.2h1V395.6h1V390.1h1V392.7h1V394.6h1V392.0h1V393.9h1V392.8h1V393.2h1V395.2h1V391.3h1V394.9h1V393.4h1V393.5h1V392.4h1V393.3h1V392.3h1V394.7h1V392.1h1V393.8h1V394.8h1V393.7h1V394.4h1V394.2h1V395.1h1V393.9h1V394.7h1V394.0h1V393.3h1V395.1h1V395.2h1V394.0h1V394.3h1V395.4h1V393.6h1V392.1h1V394.7h1V392.0h1V393.0h1V391.1h1V394.4h1V391.5h1V390.5h1V392.2h1V390.9h1V393.5h1V391.7h1V391.6h1V393.9h1V392.8h1V391.3h1V394.7h1V394.8h1V393.2h1V392.9h1V392.5h1V394.6h1V391.5h1V392.3h1V387.8h1V394.3h1V393.2h1V392.1h1V391.4h1V393.4h1V394.7h1V393.7h1V393.3h1V393.8h1V392.7h1V393.2h1V391.7h1V392.0h1V393.0h1V394.1h1V393.7h1V394.7h1V387.2h1V393.3h1V390.8h1V393.3h1V393.2h1V393.8h1V391.3h1V391.8h1V392.8h1V392.9h1V395.1h0.9V399.5Z"/>
<line x1="131.2" y1="388.5" x2="131.2" y2="399.5" class="ax"/>
<line x1="128.8" y1="399.45" x2="131.2" y2="399.45" class="ax"/>
<line x1="128.8" y1="397.25" x2="131.2" y2="397.25" class="ax"/>
<line x1="128.8" y1="395.05" x2="131.2" y2="395.05" class="ax"/>
<line x1="128.8" y1="392.85" x2="131.2" y2="392.85" class="ax"/>
<line x1="128.8" y1="390.65" x2="131.2" y2="390.65" class="ax"/>
<line x1="128.8" y1="388.45" x2="131.2" y2="388.45" class="ax"/>
<text x="128.2" y="390.5" class="yl" text-anchor="end">30</text>
<text x="128.2" y="401.5" class="yl" text-anchor="end">0</text>
<text x="363.2" y="395.6" class="chr">Arahy.16</text>
<path d="M141.3 415.1V409.0h1V409.7h1V406.5h1V408.0h1V407.0h1V409.0h1V410.3h1V409.5h1V408.4h1V409.1h1V410.8h1V407.6h1V409.6h1V408.3h1V409.1h1V408.6h1V407.6h1V407.5h1V410.1h1V407.0h1V407.5h1V409.2h1V410.2h1V411.1h1V409.3h1V406.8h1V407.8h1V407.8h1V409.8h1V411.0h1V409.3h1V408.4h1V405.5h1V407.2h1V410.0h1V406.3h1V409.8h1V409.8h1V411.0h1V410.1h1V409.1h1V407.7h1V408.9h1V410.4h1V405.5h1V403.2h1V407.3h1V409.2h1V408.1h1V403.5h1V410.4h1V408.5h1V408.4h1V409.7h1V408.5h1V408.8h1V408.5h1V408.5h1V406.5h1V410.1h1V411.0h1V408.7h1V408.3h1V403.3h1V411.2h1V410.2h1V409.9h1V410.8h1V408.4h1V405.8h1V408.0h1V409.8h1V409.2h1V408.2h1V404.5h1V409.6h1V408.3h1V409.9h1V409.5h1V410.9h1V407.8h1V406.4h1V408.4h1V409.9h1V409.1h1V409.7h1V410.6h1V409.3h1V409.3h1V409.2h1V408.3h1V410.5h1V407.8h1V407.2h1V408.3h1V410.7h1V411.0h1V406.8h1V410.4h1V409.5h1V409.8h1V408.8h1V408.5h1V407.6h1V403.2h1V409.5h1V407.0h1V408.2h1V408.5h1V406.7h1V408.4h1V407.3h1V409.3h1V409.1h1V408.2h1V403.9h1V408.6h1V407.7h1V407.9h1V408.1h1V410.2h1V409.1h1V407.3h1V404.9h1V408.2h1V404.5h1V411.2h1V407.9h1V406.0h1V407.1h1V410.4h1V408.5h1V408.4h1V407.8h1V409.8h1V410.8h1V409.4h1V407.0h1V405.4h1V410.2h1V407.4h1V410.3h1V409.5h1V410.2h1V409.5h1V409.5h1V405.1h1V410.1h1V409.1h1V410.3h1V403.2h1V404.7h1V409.4h1V408.6h1V409.7h1V408.9h1V407.8h1V409.2h1V408.0h1V409.2h1V410.9h1V408.6h1V410.6h1V408.6h1V409.0h1V410.2h1V411.1h1V408.1h1V406.6h1V409.9h1V409.9h1V403.3h1V408.0h1V407.0h1V408.2h1.2V415.1Z"/>
<line x1="131.2" y1="404.1" x2="131.2" y2="415.1" class="ax"/>
<line x1="128.8" y1="415.08" x2="131.2" y2="415.08" class="ax"/>
<line x1="128.8" y1="412.88" x2="131.2" y2="412.88" class="ax"/>
<line x1="128.8" y1="410.68" x2="131.2" y2="410.68" class="ax"/>
<line x1="128.8" y1="408.48" x2="131.2" y2="408.48" class="ax"/>
<line x1="128.8" y1="406.28" x2="131.2" y2="406.28" class="ax"/>
<line x1="128.8" y1="404.08" x2="131.2" y2="404.08" class="ax"/>
<text x="128.2" y="406.1" class="yl" text-anchor="end">40</text>
<text x="128.2" y="417.1" class="yl" text-anchor="end">0</text>
<text x="363.2" y="411.3" class="chr">Arahy.17</text>
<path d="M143.0 430.7V423.7h1V424.1h1V424.4h1V423.1h1V422.6h1V420.2h1V418.7h1V425.8h1V424.1h1V425.3h1V426.6h1V426.0h1V425.0h1V425.8h1V425.6h1V422.9h1V423.2h1V423.3h1V423.4h1V425.5h1V424.0h1V421.8h1V424.5h1V424.9h1V422.3h1V422.3h1V424.3h1V422.3h1V423.0h1V425.1h1V425.5h1V422.0h1V423.4h1V424.7h1V425.2h1V426.0h1V424.1h1V424.8h1V426.5h1V426.0h1V425.1h1V424.1h1V426.4h1V425.0h1V422.6h1V423.0h1V426.1h1V426.2h1V424.9h1V423.4h1V426.2h1V424.1h1V423.2h1V423.9h1V424.1h1V424.0h1V425.6h1V422.3h1V423.5h1V421.9h1V418.6h1V424.0h1V423.7h1V426.0h1V425.8h1V423.7h1V424.8h1V420.5h1V422.6h1V424.9h1V426.5h1V426.2h1V425.3h1V425.4h1V426.6h1V426.8h1V426.9h1V426.7h1V422.9h1V425.2h1V426.6h1V423.0h1V425.3h1V421.1h1V426.0h1V425.0h1V423.9h1V425.6h1V424.9h1V426.5h1V424.3h1V422.2h1V422.0h1V426.5h1V423.4h1V424.2h1V426.4h1V426.5h1V425.1h1V425.7h1V423.3h1V424.2h1V424.6h1V423.7h1V426.3h1V422.6h1V426.1h1V425.4h1V425.3h1V420.3h1V425.0h1V425.4h1V425.3h1V419.2h1V424.6h1V425.3h1V421.9h1V424.2h1V422.9h1V424.3h1V426.4h1V423.5h1V425.3h1V424.6h1V424.8h1V425.3h1V426.6h1V426.3h1V426.4h1V423.9h1V419.9h1V422.8h1V424.0h1V425.4h1V424.3h1V425.7h1V425.7h1V424.4h1V426.4h1V426.1h1V424.2h1V426.4h1V423.2h1V426.7h1V425.1h1V426.2h1V422.9h1V424.3h1V424.1h1V425.3h1V425.2h1V423.3h1V422.5h1V422.1h1V419.3h1V424.6h1V425.3h1V426.6h1V426.8h1V423.7h1V426.3h1V426.2h1V426.8h1V419.4h1V423.2h1V424.4h1V420.0h1V423.2h1V425.9h1V426.7h1V422.8h1V420.2h1V420.8h1V424.0h0.8V430.7Z"/>
<line x1="131.2" y1="419.7" x2="131.2" y2="430.7" class="ax"/>
<line x1="128.8" y1="430.71" x2="131.2" y2="430.71" class="ax"/>
<line x1="128.8" y1="428.51" x2="131.2" y2="428.51" class="ax"/>
<line x1="128.8" y1="426.31" x2="131.2" y2="426.31" class="ax"/>
<line x1="128.8" y1="424.11" x2="131.2" y2="424.11" class="ax"/>
<line x1="128.8" y1="421.91" x2="131.2" y2="421.91" class="ax"/>
<line x1="128.8" y1="419.71" x2="131.2" y2="419.71" class="ax"/>
<text x="128.2" y="421.7" class="yl" text-anchor="end">30</text>
<text x="128.2" y="432.7" class="yl" text-anchor="end">0</text>
<text x="363.2" y="426.9" class="chr">Arahy.18</text>
<path d="M141.3 446.3V439.9h1V438.5h1V439.9h1V439.8h1V442.0h1V441.0h1V441.2h1V441.0h1V438.4h1V440.6h1V437.8h1V441.6h1V438.6h1V441.7h1V441.8h1V439.4h1V439.3h1V441.9h1V439.0h1V438.6h1V436.6h1V440.9h1V442.2h1V441.9h1V440.8h1V438.0h1V441.5h1V439.9h1V440.5h1V439.5h1V435.1h1V440.0h1V441.6h1V440.6h1V442.0h1V434.1h1V442.0h1V441.8h1V439.7h1V438.5h1V439.8h1V442.2h1V441.0h1V441.6h1V440.0h1V438.7h1V440.8h1V440.5h1V439.3h1V438.5h1V439.4h1V441.8h1V438.7h1V439.8h1V441.8h1V440.2h1V440.3h1V442.1h1V438.7h1V438.5h1V439.3h1V435.9h1V439.7h1V440.6h1V439.0h1V439.1h1V437.9h1V441.4h1V438.6h1V441.4h1V439.5h1V441.0h1V438.5h1V437.8h1V437.8h1V439.5h1V441.9h1V441.1h1V441.7h1V440.6h1V442.1h1V434.9h1V437.2h1V441.6h1V439.2h1V439.8h1V442.0h1V438.5h1V439.5h1V439.2h1V440.2h1V441.4h1V441.7h1V440.2h1V438.8h1V439.7h1V438.4h1V440.4h1V442.1h1V439.1h1V438.9h1V441.2h1V440.7h1V441.0h1V438.3h1V440.1h1V438.5h1V440.2h1V439.6h1V437.7h1V434.7h1V438.3h1V439.3h1V440.3h1V438.6h1V441.8h1V441.1h1V438.5h1V441.2h1V440.9h1V439.9h1V437.8h1V436.2h1V439.8h1V438.6h1V441.8h1V440.7h1V442.2h1V439.0h1V439.4h1V439.9h1V436.7h1V438.0h1V439.3h1V439.5h1V439.1h1V440.7h1V442.2h1V437.8h1V435.1h1V441.6h1V434.3h1V435.6h1V441.0h1V441.7h1V440.7h1V440.9h1V440.0h1V441.8h1V441.0h1V435.0h1V441.1h1V441.9h1V440.2h1V440.5h1V440.7h1V440.6h1V442.2h1V434.5h1V434.0h1V440.1h1V440.2h1V439.6h1V440.9h1V440.9h1V434.0h1V434.3h1V436.2h1V441.9h1V441.5h1V440.6h1V438.6h1V438.0h1V439.9h1V438.8h1V438.9h1V441.2h1V440.5h1V440.2h1V434.6h1V439.2h1V438.7h1V441.5h1V441.4h1V438.5h1V441.7h1V442.0h1V439.7h1V439.2h1V439.0h1V438.8h1V439.8h1V441.9h1V441.9h1V442.3h1V438.0h1V442.2h1V442.4h1V440.1h1V441.5h1V439.9h1V440.6h1V441.8h1V434.9h1V439.9h1V440.7h1V434.8h1.4V446.3Z"/>
<line x1="131.2" y1="435.3" x2="131.2" y2="446.3" class="ax"/>
<line x1="128.8" y1="446.34" x2="131.2" y2="446.34" class="ax"/>
<line x1="128.8" y1="444.14" x2="131.2" y2="444.14" class="ax"/>
<line x1="128.8" y1="441.94" x2="131.2" y2="441.94" class="ax"/>
<line x1="128.8" y1="439.74" x2="131.2" y2="439.74" class="ax"/>
<line x1="128.8" y1="437.54" x2="131.2" y2="437.54" class="ax"/>
<line x1="128.8" y1="435.34" x2="131.2" y2="435.34" class="ax"/>
<text x="128.2" y="437.3" class="yl" text-anchor="end">40</text>
<text x="128.2" y="448.3" class="yl" text-anchor="end">0</text>
<text x="363.2" y="442.5" class="chr">Arahy.19</text>
<path d="M141.3 462.0V455.5h1V456.8h1V455.8h1V457.5h1V455.5h1V452.5h1V454.2h1V455.9h1V451.0h1V454.8h1V457.5h1V455.9h1V454.6h1V454.7h1V454.7h1V456.6h1V457.3h1V456.8h1V455.3h1V453.9h1V454.5h1V453.7h1V457.5h1V455.2h1V457.2h1V456.6h1V454.8h1V456.8h1V456.6h1V453.8h1V457.3h1V455.2h1V455.3h1V455.2h1V455.8h1V457.4h1V455.9h1V457.7h1V456.4h1V452.4h1V450.4h1V455.3h1V456.4h1V457.6h1V455.8h1V454.9h1V453.7h1V454.5h1V455.4h1V453.5h1V455.5h1V454.8h1V455.2h1V457.6h1V455.0h1V456.8h1V457.9h1V456.9h1V456.0h1V452.2h1V451.6h1V454.1h1V454.2h1V454.4h1V455.9h1V455.4h1V454.0h1V455.9h1V456.1h1V452.4h1V456.5h1V455.4h1V455.9h1V455.2h1V456.8h1V455.0h1V456.0h1V454.4h1V456.2h1V450.9h1V455.2h1V455.8h1V455.9h1V456.7h1V456.4h1V456.7h1V456.9h1V455.8h1V455.5h1V453.8h1V457.6h1V456.9h1V455.2h1V455.3h1V453.9h1V456.7h1V456.8h1V450.5h1V456.8h1V451.8h1V455.2h1V457.6h1V455.0h1V454.0h1V456.1h1V455.4h1V455.5h1V457.1h1V456.4h1V457.8h1V458.1h1V454.9h1V456.5h1V455.3h1V456.1h1V455.5h1V453.6h1V455.0h1V457.2h1V450.2h1V455.6h1V455.5h1V455.2h1V455.6h1V456.2h1V453.7h1V455.5h1V456.7h1V456.2h1V457.5h1V454.0h1V456.2h1V456.3h1V457.7h1V454.9h1V457.2h1V455.7h1V450.4h1V456.7h1V457.7h1V457.5h1V454.5h1V455.2h1V452.7h1V456.5h1V450.3h1V455.0h1V457.3h1V457.3h1V457.1h1V455.2h1V457.9h1V455.4h1V454.9h1V454.9h1V454.5h1V454.5h1V455.2h1V457.6h1V457.1h1V457.1h1V458.0h1V456.5h1V455.8h1V455.0h1V453.4h1V454.9h1V457.3h1V455.6h1V457.9h1V450.8h1V454.9h1V454.8h1V456.5h1V454.4h1V452.9h1V456.5h1V453.9h1V454.7h1V455.8h1V452.8h1V454.9h1V457.0h1V454.9h1V455.1h1V453.6h1V455.2h1V456.3h1V455.9h0.7V462.0Z"/>
<line x1="131.2" y1="451.0" x2="131.2" y2="462.0" class="ax"/>
<line x1="128.8" y1="461.97" x2="131.2" y2="461.97" class="ax"/>
<line x1="128.8" y1="459.77" x2="131.2" y2="459.77" class="ax"/>
<line x1="128.8" y1="457.57" x2="131.2" y2="457.57" class="ax"/>
<line x1="128.8" y1="455.37" x2="131.2" y2="455.37" class="ax"/>
<line x1="128.8" y1="453.17" x2="131.2" y2="453.17" class="ax"/>
<line x1="128.8" y1="450.97" x2="131.2" y2="450.97" class="ax"/>
<text x="128.2" y="453.0" class="yl" text-anchor="end">30</text>
<text x="128.2" y="464.0" class="yl" text-anchor="end">0</text>
<text x="363.2" y="458.2" class="chr">Arahy.20</text>
<line x1="129.2" y1="462.3" x2="359.7" y2="462.3" class="ax"/>
<line x1="141.5" y1="462.3" x2="141.5" y2="464.3" class="ax"/>
<text x="141.5" y="469.7" class="xl" text-anchor="middle">0.0e+00</text>
<line x1="206.5" y1="462.3" x2="206.5" y2="464.3" class="ax"/>
<text x="206.5" y="469.7" class="xl" text-anchor="middle">5.0e+07</text>
<line x1="271.5" y1="462.3" x2="271.5" y2="464.3" class="ax"/>
<text x="271.5" y="469.7" class="xl" text-anchor="middle">1.0e+08</text>
<line x1="336.5" y1="462.3" x2="336.5" y2="464.3" class="ax"/>
<text x="336.5" y="469.7" class="xl" text-anchor="middle">1.5e+08</text>
<text x="207.2" y="478.7" class="xt">Chromosome Size (bp)</text>
<path d="M425.2 161.5V157.7h1V158.2h1V158.5h1V158.4h1V158.3h1V158.9h1V158.4h1V158.9h1V158.6h1V158.6h1V159.0h1V159.1h1V159.0h1V158.0h1V158.3h1V158.0h1V158.6h1V157.9h1V158.9h1V158.3h1V158.2h1V156.6h1V158.6h1V158.6h1V158.4h1V159.0h1V159.1h1V158.7h1V158.8h1V158.1h1V158.5h1V158.2h1V158.0h1V158.3h1V158.8h1V159.0h1V158.3h1V158.7h1V158.9h1V158.6h1V159.0h1V159.0h1V158.9h1V159.1h1V158.9h1V158.7h1V158.2h1V158.4h1V157.8h1V157.9h1V158.6h1V158.4h1V158.1h1V158.6h1V158.0h1V157.9h1V157.3h1V158.0h1V158.3h1V158.2h1V158.8h1V159.0h1V159.0h1V158.2h1V158.4h1V158.6h1V158.5h1V158.4h1V158.7h1V159.0h1V158.7h1V157.6h1V158.8h1V158.5h1V158.4h1V158.8h1V158.9h1V158.7h1V158.6h1V157.3h1V157.0h1V156.6h1V155.1h1V155.1h1V153.7h1V153.8h1V153.6h1V153.3h1V155.0h1V155.4h1V158.5h1V159.0h1V157.4h1V150.1h1V150.1h1V158.5h1V158.1h1V158.1h1V158.7h1V159.0h1V158.8h1V158.2h1V158.2h1V158.6h1V159.0h1V158.8h1V159.0h1V159.0h1V158.8h1V158.1h1V158.9h1V158.6h1V158.0h1V158.9h1V158.7h1V159.0h1V159.1h1V157.3h1V158.2h1V158.2h1V158.2h1V157.7h1V158.3h1V158.5h1V158.5h1V158.7h1V158.1h1V157.5h1V158.2h1V158.1h1V158.4h1V158.2h1V157.6h1V158.8h1V158.6h1V159.0h1V159.1h1V156.4h1V158.4h1V158.3h1V158.6h1V158.7h1V158.3h1V158.2h1V158.9h1V159.1h1V158.9h0.9V161.5Z"/>
<line x1="415.1" y1="150.5" x2="415.1" y2="161.5" class="ax"/>
<line x1="412.7" y1="161.50" x2="415.1" y2="161.50" class="ax"/>
<line x1="412.7" y1="159.30" x2="415.1" y2="159.30" class="ax"/>
<line x1="412.7" y1="157.10" x2="415.1" y2="157.10" class="ax"/>
<line x1="412.7" y1="154.90" x2="415.1" y2="154.90" class="ax"/>
<line x1="412.7" y1="152.70" x2="415.1" y2="152.70" class="ax"/>
<line x1="412.7" y1="150.50" x2="415.1" y2="150.50" class="ax"/>
<text x="411.3" y="152.5" class="yl" text-anchor="end">60</text>
<text x="411.3" y="163.5" class="yl" text-anchor="end">0</text>
<path d="M425.2 177.1V169.3h1V169.6h1V172.1h1V172.9h1V171.5h1V172.2h1V169.2h1V170.5h1V171.4h1V171.7h1V167.9h1V171.4h1V169.2h1V169.7h1V172.1h1V171.6h1V172.8h1V170.8h1V170.9h1V172.8h1V168.1h1V171.5h1V172.6h1V172.1h1V171.0h1V169.1h1V171.4h1V172.9h1V171.2h1V172.2h1V170.1h1V168.5h1V168.4h1V170.1h1V172.5h1V171.1h1V167.9h1V170.9h1V171.4h1V170.0h1V170.3h1V171.4h1V172.2h1V170.4h1V172.7h1V170.9h1V172.8h1V165.1h1V166.6h1V172.0h1V172.1h1V172.3h1V171.9h1V168.5h1V169.9h1V171.1h1V170.0h1V170.3h1V170.9h1V171.8h1V170.7h1V172.5h1V171.5h1V170.2h1V169.8h1V172.2h1V169.7h1V171.4h1V171.5h1V172.9h1V165.7h1V171.5h1V171.2h1V170.5h1V172.6h1V171.1h1V172.3h1V171.7h1V169.0h1V172.2h1V171.5h1V168.3h1V168.0h1V168.6h1V172.9h1V171.8h1V171.1h1V166.6h1V172.9h1V170.1h1V170.5h1V170.8h1V169.9h1V168.2h1V171.8h1V171.5h1V172.5h1V170.4h1V169.8h1V170.6h1V166.3h1V171.2h1V172.9h1V169.9h1V169.9h1V169.6h1V170.7h1V171.1h1V166.3h1V168.6h1V167.6h1V172.2h1V169.9h1V172.9h1V171.0h1V170.9h1V172.4h1V171.8h1V171.2h1V169.5h1V172.5h1V170.8h1V170.4h1V169.4h1V170.9h1V171.4h1V173.0h1V173.0h1V171.8h1V170.3h1V170.7h1V168.8h1V177.1Z"/>
<line x1="415.1" y1="166.1" x2="415.1" y2="177.1" class="ax"/>
<line x1="412.7" y1="177.13" x2="415.1" y2="177.13" class="ax"/>
<line x1="412.7" y1="174.93" x2="415.1" y2="174.93" class="ax"/>
<line x1="412.7" y1="172.73" x2="415.1" y2="172.73" class="ax"/>
<line x1="412.7" y1="170.53" x2="415.1" y2="170.53" class="ax"/>
<line x1="412.7" y1="168.33" x2="415.1" y2="168.33" class="ax"/>
<line x1="412.7" y1="166.13" x2="415.1" y2="166.13" class="ax"/>
<text x="411.3" y="168.1" class="yl" text-anchor="end">30</text>
<text x="411.3" y="179.1" class="yl" text-anchor="end">0</text>
<path d="M425.2 192.8V189.8h1V188.9h1V189.6h1V187.6h1V189.9h1V190.2h1V189.6h1V189.3h1V189.9h1V189.9h1V189.1h1V189.5h1V190.2h1V190.2h1V190.0h1V189.3h1V189.2h1V189.6h1V190.2h1V189.9h1V189.7h1V189.7h1V188.5h1V190.3h1V190.0h1V189.9h1V190.1h1V189.9h1V189.3h1V190.2h1V190.3h1V189.7h1V189.2h1V190.1h1V189.2h1V189.8h1V190.0h1V190.0h1V189.9h1V189.8h1V189.1h1V190.1h1V190.3h1V190.2h1V189.9h1V190.1h1V189.4h1V190.0h1V189.9h1V190.3h1V189.9h1V190.1h1V189.9h1V189.9h1V189.9h1V189.0h1V190.1h1V189.7h1V189.9h1V190.3h1V190.2h1V189.9h1V190.1h1V189.0h1V189.7h1V190.2h1V187.3h1V189.6h1V189.9h1V190.0h1V189.6h1V190.2h1V189.9h1V188.9h1V189.4h1V190.0h1V188.9h1V189.1h1V190.1h1V190.1h1V190.1h1V190.3h1V189.7h1V189.1h1V188.6h1V190.0h1V189.4h1V189.4h1V188.9h1V189.8h1V189.6h1V189.8h1V188.7h1V189.1h1V190.1h1V189.5h1V187.8h1V189.9h1V189.9h1V189.9h1V190.2h1V189.4h1V189.8h1V189.9h1V189.3h1V189.0h1V189.3h1V190.2h1V189.4h1V190.2h1V189.7h1V189.3h1V189.6h1V190.1h1V189.4h1V181.1h1V180.9h1V189.2h1V190.1h1V189.5h1V190.0h1V189.8h1V189.6h1V190.2h1V189.2h1V188.9h1V189.4h1V189.4h1V190.1h1V189.6h1V190.0h1V188.6h1V190.0h1V188.1h1V190.3h1V189.0h1V189.9h1V189.2h1V190.1h1V189.4h1V190.2h1V190.1h1V189.6h1V189.6h1V189.4h1V189.1h1V189.6h1V189.4h1V189.9h1V190.3h1V190.1h1V190.3h1V190.1h1V189.7h1V190.2h1V189.4h1V189.4h1V190.0h1V189.8h1V189.4h1V190.2h1V189.9h1V189.1h1V189.9h1V189.3h1V190.1h1V190.1h1V189.7h1V189.0h1V188.9h1V189.8h1V189.2h1V189.5h1V189.0h1V189.1h1V189.4h1V189.6h1V189.4h1V189.2h1V189.1h1V189.9h1V189.8h1V190.2h1V189.5h1V188.7h1V189.3h1.2V192.8Z"/>
<line x1="415.1" y1="181.8" x2="415.1" y2="192.8" class="ax"/>
<line x1="412.7" y1="192.76" x2="415.1" y2="192.76" class="ax"/>
<line x1="412.7" y1="190.56" x2="415.1" y2="190.56" class="ax"/>
<line x1="412.7" y1="188.36" x2="415.1" y2="188.36" class="ax"/>
<line x1="412.7" y1="186.16" x2="415.1" y2="186.16" class="ax"/>
<line x1="412.7" y1="183.96" x2="415.1" y2="183.96" class="ax"/>
<line x1="412.7" y1="181.76" x2="415.1" y2="181.76" class="ax"/>
<text x="411.3" y="183.8" class="yl" text-anchor="end">50</text>
<text x="411.3" y="194.8" class="yl" text-anchor="end">0</text>
<path d="M425.2 208.4V202.7h1V201.7h1V203.7h1V201.4h1V200.1h1V201.6h1V202.0h1V202.4h1V204.1h1V204.5h1V199.5h1V201.6h1V199.8h1V201.3h1V202.7h1V202.2h1V202.7h1V203.3h1V203.5h1V204.4h1V204.5h1V201.2h1V203.1h1V203.2h1V201.5h1V202.7h1V201.2h1V203.9h1V202.2h1V204.1h1V202.6h1V197.2h1V200.1h1V197.8h1V202.7h1V203.8h1V201.2h1V202.7h1V198.3h1V201.7h1V202.2h1V201.7h1V204.5h1V203.6h1V202.7h1V204.2h1V202.4h1V201.3h1V203.4h1V202.3h1V203.3h1V202.2h1V203.7h1V196.3h1V202.6h1V200.9h1V201.3h1V201.9h1V202.8h1V202.6h1V202.0h1V201.4h1V199.4h1V200.6h1V200.7h1V201.2h1V203.9h1V204.5h1V202.0h1V200.1h1V202.4h1V201.0h1V202.3h1V204.1h1V203.9h1V201.7h1V201.1h1V199.9h1V199.7h1V203.6h1V199.4h1V197.8h1V201.6h1V200.3h1V200.7h1V201.4h1V203.9h1V202.6h1V200.0h1V203.4h1V202.1h1V201.4h1V203.2h1V203.4h1V202.4h1V203.0h1V203.3h1V203.4h1V203.0h1V204.3h1V202.8h1V202.8h1V202.8h1V203.7h1V202.7h1V203.1h1V203.5h1V203.3h1V201.6h1V203.1h1V196.5h1V200.8h1V200.9h1V201.1h1V202.9h1V197.4h1V201.1h1V203.0h1V202.2h1V202.8h1V201.9h1V204.0h1V201.4h1V203.9h1V203.0h1V204.3h1V203.8h1V202.8h1V201.4h1V203.9h1V199.9h1V203.8h1V201.0h1V201.0h1V199.8h1V201.5h1V202.4h1V199.3h1V200.2h1V202.0h1V202.6h1V201.9h1V200.4h1V202.6h1V197.3h1V201.1h1V203.9h1V200.6h1V201.0h1V204.2h1V202.4h1V196.8h1V200.9h1V200.5h1V203.8h1V203.9h1V201.7h1V202.5h1V203.5h1V202.1h1V202.7h1V203.3h1V198.9h1V203.0h1V199.7h0.6V208.4Z"/>
<line x1="415.1" y1="197.4" x2="415.1" y2="208.4" class="ax"/>
<line x1="412.7" y1="208.39" x2="415.1" y2="208.39" class="ax"/>
<line x1="412.7" y1="206.19" x2="415.1" y2="206.19" class="ax"/>
<line x1="412.7" y1="203.99" x2="415.1" y2="203.99" class="ax"/>
<line x1="412.7" y1="201.79" x2="415.1" y2="201.79" class="ax"/>
<line x1="412.7" y1="199.59" x2="415.1" y2="199.59" class="ax"/>
<line x1="412.7" y1="197.39" x2="415.1" y2="197.39" class="ax"/>
<text x="411.3" y="199.4" class="yl" text-anchor="end">20</text>
<text x="411.3" y="210.4" class="yl" text-anchor="end">0</text>
<path d="M433.4 224.0V219.8h1V219.5h1V219.3h1V220.0h1V220.0h1V218.2h1V217.5h1V217.1h1V217.0h1V213.7h1V216.6h1V218.3h1V218.2h1V216.2h1V217.2h1V216.3h1V213.1h1V216.7h1V219.5h1V218.0h1V217.9h1V217.3h1V218.9h1V217.0h1V216.3h1V218.7h1V218.1h1V212.5h1V219.9h1V220.2h1V218.7h1V219.3h1V218.6h1V216.6h1V217.8h1V217.6h1V216.5h1V219.4h1V218.0h1V219.8h1V216.6h1V218.7h1V217.1h1V215.7h1V217.7h1V217.3h1V218.3h1V219.8h1V216.5h1V216.3h1V215.8h1V219.3h1V217.9h1V218.0h1V216.9h1V218.7h1V214.2h1V218.9h1V217.7h1V215.5h1V217.2h1V218.2h1V217.1h1V216.0h1V216.5h1V219.8h1V216.7h1V214.6h1V215.7h1V217.6h1V214.9h1V217.5h1V217.6h1V217.7h1V219.1h1V217.5h1V213.2h1V219.6h1V217.3h1V218.6h1V219.8h1V218.6h1V217.3h1V215.4h1V216.0h1V217.5h1V219.7h1V216.6h1V212.8h1V216.9h1V218.7h1V216.5h1V218.7h1V218.6h1V218.2h1V218.8h1V217.1h1V218.0h1V219.8h1V217.3h1V216.8h1V218.5h1V217.7h1V214.7h1V219.3h1V216.8h1V219.1h1V218.3h1V218.9h1V213.8h1V218.8h1V218.8h1V219.2h1V213.3h1V214.4h1V219.1h1V218.4h1V217.8h1V218.5h1V216.1h1V215.8h1V217.5h1V217.3h1V218.8h1V219.9h1V215.7h1V217.2h1V217.8h1V218.7h1V214.0h1V218.3h1V216.8h1V217.0h1V214.9h1V217.7h1V217.9h1V218.7h1V216.1h1V218.0h1V219.6h1V217.8h1V216.9h1.5V224.0Z"/>
<line x1="415.1" y1="213.0" x2="415.1" y2="224.0" class="ax"/>
<line x1="412.7" y1="224.02" x2="415.1" y2="224.02" class="ax"/>
<line x1="412.7" y1="221.82" x2="415.1" y2="221.82" class="ax"/>
<line x1="412.7" y1="219.62" x2="415.1" y2="219.62" class="ax"/>
<line x1="412.7" y1="217.42" x2="415.1" y2="217.42" class="ax"/>
<line x1="412.7" y1="215.22" x2="415.1" y2="215.22" class="ax"/>
<line x1="412.7" y1="213.02" x2="415.1" y2="213.02" class="ax"/>
<text x="411.3" y="215.0" class="yl" text-anchor="end">20</text>
<text x="411.3" y="226.0" class="yl" text-anchor="end">0</text>
<path d="M425.2 239.7V233.0h1V235.3h1V234.1h1V235.4h1V232.6h1V232.6h1V233.4h1V233.7h1V227.6h1V232.0h1V234.0h1V228.9h1V233.2h1V230.7h1V234.5h1V234.2h1V234.6h1V234.0h1V231.3h1V234.6h1V233.0h1V233.8h1V232.9h1V232.3h1V234.7h1V234.3h1V235.3h1V229.9h1V231.6h1V234.8h1V233.1h1V235.3h1V231.4h1V234.1h1V234.2h1V233.6h1V235.4h1V234.8h1V232.6h1V231.2h1V230.1h1V233.6h1V232.8h1V231.4h1V233.1h1V233.8h1V233.7h1V235.4h1V230.3h1V232.2h1V235.1h1V233.6h1V230.9h1V235.5h1V233.1h1V234.3h1V233.8h1V232.5h1V231.1h1V232.5h1V233.5h1V232.3h1V231.4h1V232.9h1V234.1h1V230.9h1V233.7h1V233.0h1V232.9h1V227.8h1V232.7h1V235.2h1V233.4h1V233.7h1V232.9h1V235.3h1V234.3h1V230.9h1V229.1h1V235.8h1V233.1h1V235.2h1V234.9h1V234.3h1V227.8h1V231.8h1V234.2h1V233.9h1V229.2h1V234.8h1V233.7h1V234.0h1V231.0h1V232.6h1V234.9h1V235.4h1V232.2h1V229.6h1V234.7h1V235.6h1V230.2h1V232.9h1V235.3h1V235.0h1V233.6h1V230.0h1V234.2h1V234.3h1V232.8h1V232.3h1V233.3h1V227.5h1V233.8h1V232.0h1V232.6h1V232.5h1V235.1h1V233.4h1V234.0h1V231.7h1V234.5h1V235.2h1V230.6h1V235.3h1V235.0h1V234.1h1V235.1h1V235.2h1V232.8h1V233.7h1V232.6h1V231.4h1V230.2h1V233.3h1V233.5h1V230.5h1V231.1h1V232.2h1V233.3h1V232.9h1V232.2h1V234.1h1V235.3h1V232.3h1V232.5h1V232.3h1V234.0h1V233.9h1V233.9h1V235.3h1V233.6h1V232.2h0.8V239.7Z"/>
<line x1="415.1" y1="228.7" x2="415.1" y2="239.7" class="ax"/>
<line x1="412.7" y1="239.65" x2="415.1" y2="239.65" class="ax"/>
<line x1="412.7" y1="237.45" x2="415.1" y2="237.45" class="ax"/>
<line x1="412.7" y1="235.25" x2="415.1" y2="235.25" class="ax"/>
<line x1="412.7" y1="233.05" x2="415.1" y2="233.05" class="ax"/>
<line x1="412.7" y1="230.85" x2="415.1" y2="230.85" class="ax"/>
<line x1="412.7" y1="228.65" x2="415.1" y2="228.65" class="ax"/>
<text x="411.3" y="230.7" class="yl" text-anchor="end">30</text>
<text x="411.3" y="241.7" class="yl" text-anchor="end">0</text>
<path d="M425.2 255.3V251.1h1V249.9h1V248.4h1V248.0h1V249.9h1V250.5h1V249.2h1V247.6h1V246.9h1V250.8h1V248.0h1V245.7h1V248.7h1V248.7h1V249.7h1V245.7h1V244.8h1V244.9h1V250.5h1V250.6h1V250.5h1V248.3h1V249.4h1V250.7h1V249.0h1V247.8h1V249.2h1V251.0h1V248.6h1V249.9h1V251.2h1V246.3h1V250.0h1V245.2h1V248.5h1V247.9h1V249.0h1V244.2h1V250.9h1V251.4h1V249.5h1V251.0h1V249.5h1V250.6h1V247.6h1V250.7h1V247.6h1V250.0h1V248.6h1V247.6h1V243.7h1V250.9h1V251.4h1V244.0h1V250.9h1V249.9h1V250.4h1V250.6h1V248.4h1V250.9h1V251.4h1V249.6h1V250.7h1V249.7h1V250.6h1V249.3h1V250.9h1V249.7h1V249.3h1V250.9h1V251.4h1V248.4h1V249.3h1V250.3h1V248.5h1V243.0h1V248.3h1V250.8h1V250.4h1V248.6h1V250.2h1V249.6h1V246.8h1V247.3h1V250.1h1V248.8h1V247.7h1V249.1h1V250.6h1V249.9h1V249.2h1V251.0h1V250.7h1V246.1h1V248.5h1V246.8h1V245.6h1V251.1h1V244.1h1V248.6h1V248.5h1V250.9h1V250.3h1V250.9h1V248.3h1V248.9h0.5V255.3Z"/>
<line x1="415.1" y1="244.3" x2="415.1" y2="255.3" class="ax"/>
<line x1="412.7" y1="255.28" x2="415.1" y2="255.28" class="ax"/>
<line x1="412.7" y1="253.08" x2="415.1" y2="253.08" class="ax"/>
<line x1="412.7" y1="250.88" x2="415.1" y2="250.88" class="ax"/>
<line x1="412.7" y1="248.68" x2="415.1" y2="248.68" class="ax"/>
<line x1="412.7" y1="246.48" x2="415.1" y2="246.48" class="ax"/>
<line x1="412.7" y1="244.28" x2="415.1" y2="244.28" class="ax"/>
<text x="411.3" y="246.3" class="yl" text-anchor="end">20</text>
<text x="411.3" y="257.3" class="yl" text-anchor="end">0</text>
<path d="M425.2 270.9V264.7h1V264.7h1V259.1h1V265.2h1V264.3h1V266.8h1V263.1h1V265.8h1V266.5h1V266.7h1V265.3h1V266.8h1V264.2h1V266.1h1V264.7h1V264.7h1V265.8h1V262.2h1V266.5h1V266.5h1V266.9h1V265.8h1V264.0h1V264.5h1V266.2h1V262.7h1V264.6h1V264.3h1V260.8h1V266.9h1V265.6h1V265.2h1V259.0h1V265.1h1V261.7h1V260.8h1V265.7h1V264.8h1V266.3h1V266.0h1V263.7h1V263.9h1V266.5h1V267.0h1V259.9h1V265.9h1V264.9h1V265.1h1V266.7h1V264.2h1V264.4h1V263.9h1V264.7h1V261.9h1V264.9h1V264.6h1V264.7h1V264.2h1V263.5h1V258.8h1V261.1h1V265.1h1V266.6h1V265.9h1V266.9h1V266.9h1V264.8h1.3V270.9Z"/>
<line x1="415.1" y1="259.9" x2="415.1" y2="270.9" class="ax"/>
<line x1="412.7" y1="270.91" x2="415.1" y2="270.91" class="ax"/>
<line x1="412.7" y1="268.71" x2="415.1" y2="268.71" class="ax"/>
<line x1="412.7" y1="266.51" x2="415.1" y2="266.51" class="ax"/>
<line x1="412.7" y1="264.31" x2="415.1" y2="264.31" class="ax"/>
<line x1="412.7" y1="262.11" x2="415.1" y2="262.11" class="ax"/>
<line x1="412.7" y1="259.91" x2="415.1" y2="259.91" class="ax"/>
<text x="411.3" y="261.9" class="yl" text-anchor="end">30</text>
<text x="411.3" y="272.9" class="yl" text-anchor="end">0</text>
<path d="M425.2 286.5V280.7h1V280.3h1V279.5h1V280.9h1V278.5h1V282.1h1V279.6h1V280.9h1V275.7h1V279.2h1V280.9h1V278.2h1V281.8h1V282.0h1V281.7h1V276.4h1V280.0h1V281.6h1V278.8h1V278.6h1V280.4h1V282.0h1V282.6h1V282.7h1V279.1h1V280.0h1V279.7h1V282.1h1V278.6h1V279.5h1V280.8h1V281.6h1V282.4h1V280.9h1V279.0h1V281.7h1V279.2h1V279.3h1V281.3h1V281.3h1V282.5h1V279.4h1V282.0h1V280.4h1V281.0h1V279.8h1V281.2h1V281.5h1V279.3h1V277.8h1V277.6h1V280.3h1V278.5h1V281.0h1V281.3h1V280.2h1V281.2h1V280.6h1V280.0h1V280.8h1V280.1h1V278.7h1V279.6h1V279.0h1V280.3h1V277.8h1V279.8h1V281.0h1V281.8h1V279.9h1V279.5h1V282.1h1V279.9h1V279.9h1V282.2h1V281.0h1V280.0h1V274.9h1V280.1h1V280.4h1V278.7h1V281.6h1V281.0h1V282.4h1V282.7h1V280.3h1V276.4h1V282.6h1V277.1h1V281.5h1V280.7h1V282.3h1V280.8h1V282.3h1V280.0h1V280.8h1V281.0h1V277.8h1V281.7h1V282.5h1V282.1h1V279.8h1V282.2h1V279.5h1V279.9h1V277.3h1V281.5h1V281.7h1V281.1h1V279.6h1V280.3h1V281.2h1V282.0h1V282.6h1V279.7h1V280.7h1V280.9h1V279.5h1V278.1h1V278.5h1V281.3h1V280.0h1V282.2h1V280.1h1V279.7h1V280.8h1V280.6h1V280.4h1V280.4h1V280.5h1V280.6h1V281.7h1V281.1h1V281.8h1V280.8h1V279.2h1V279.2h1V279.9h1V281.8h1V279.7h1V280.1h1V277.4h1V282.0h1V281.3h1V281.0h1V280.3h1V282.2h1V282.3h1V281.6h1V282.5h1V282.2h1V279.2h1V280.2h1V281.2h1V281.1h1V281.8h1V281.2h0.7V286.5Z"/>
<line x1="415.1" y1="275.5" x2="415.1" y2="286.5" class="ax"/>
<line x1="412.7" y1="286.54" x2="415.1" y2="286.54" class="ax"/>
<line x1="412.7" y1="284.34" x2="415.1" y2="284.34" class="ax"/>
<line x1="412.7" y1="282.14" x2="415.1" y2="282.14" class="ax"/>
<line x1="412.7" y1="279.94" x2="415.1" y2="279.94" class="ax"/>
<line x1="412.7" y1="277.74" x2="415.1" y2="277.74" class="ax"/>
<line x1="412.7" y1="275.54" x2="415.1" y2="275.54" class="ax"/>
<text x="411.3" y="277.5" class="yl" text-anchor="end">30</text>
<text x="411.3" y="288.5" class="yl" text-anchor="end">0</text>
<path d="M425.2 302.2V299.7h1V298.5h1V298.7h1V298.4h1V299.2h1V299.7h1V299.0h1V299.1h1V299.2h1V298.3h1V298.7h1V299.1h1V298.7h1V298.7h1V298.5h1V298.8h1V299.1h1V299.5h1V298.8h1V299.6h1V299.6h1V299.7h1V298.9h1V298.7h1V298.9h1V299.6h1V298.8h1V299.2h1V299.4h1V299.3h1V298.6h1V299.4h1V298.9h1V298.7h1V299.1h1V298.8h1V299.4h1V299.6h1V299.4h1V298.6h1V299.2h1V298.5h1V299.3h1V299.4h1V299.4h1V299.5h1V299.6h1V299.7h1V297.9h1V298.5h1V299.5h1V298.6h1V299.5h1V298.3h1V298.7h1V298.1h1V299.1h1V299.5h1V299.5h1V297.1h1V299.1h1V299.3h1V296.9h1V298.8h1V299.0h1V299.0h1V298.5h1V298.7h1V298.9h1V299.1h1V299.0h1V294.2h1V293.7h1V290.3h1V290.5h1V291.8h1V291.8h1V295.1h1V294.8h1V297.4h1V299.3h1V299.7h1V299.6h1V298.5h1V299.2h1V299.3h1V299.6h1V299.7h1V298.7h1V299.1h1V299.4h1V299.0h1V299.3h1V299.2h1V298.7h1V299.1h1V299.6h1V299.4h1V299.3h1V298.4h1V299.4h1V299.6h1V299.3h1V299.5h1V299.7h1V298.9h1V299.3h1V299.1h1V299.6h1V299.0h1V298.7h1V299.0h1V299.5h1V299.4h1V298.3h1V299.1h1V298.7h1V298.6h1V299.5h1V298.7h1V299.0h1V297.8h1V299.2h1V299.3h1V299.1h1V299.3h1V298.9h1V299.3h1V299.4h1V299.0h1V299.6h1V299.4h1V298.7h1V299.6h1V299.4h1V299.7h1V298.8h1V299.6h1V299.6h1V297.2h1V298.9h1V299.6h1V299.2h1V299.2h1V299.3h1V298.3h1V299.2h1V299.7h1V298.9h1V298.3h1V299.0h1V299.6h1V299.2h0.5V302.2Z"/>
<line x1="415.1" y1="291.2" x2="415.1" y2="302.2" class="ax"/>
<line x1="412.7" y1="302.17" x2="415.1" y2="302.17" class="ax"/>
<line x1="412.7" y1="299.97" x2="415.1" y2="299.97" class="ax"/>
<line x1="412.7" y1="297.77" x2="415.1" y2="297.77" class="ax"/>
<line x1="412.7" y1="295.57" x2="415.1" y2="295.57" class="ax"/>
<line x1="412.7" y1="293.37" x2="415.1" y2="293.37" class="ax"/>
<line x1="412.7" y1="291.17" x2="415.1" y2="291.17" class="ax"/>
<text x="411.3" y="293.2" class="yl" text-anchor="end">60</text>
<text x="411.3" y="304.2" class="yl" text-anchor="end">0</text>
<path d="M425.2 317.8V310.1h1V308.5h1V310.9h1V312.1h1V312.2h1V313.0h1V309.6h1V310.9h1V312.3h1V310.4h1V310.7h1V311.2h1V311.6h1V313.5h1V311.1h1V310.3h1V311.9h1V312.6h1V310.2h1V312.5h1V313.0h1V313.0h1V312.5h1V312.9h1V313.8h1V311.0h1V311.4h1V310.8h1V308.2h1V309.6h1V311.7h1V312.9h1V309.4h1V311.1h1V310.5h1V312.2h1V313.6h1V310.8h1V311.0h1V312.2h1V313.2h1V312.5h1V307.1h1V313.0h1V311.4h1V313.5h1V312.0h1V311.2h1V313.0h1V312.6h1V311.9h1V313.4h1V311.6h1V311.0h1V311.7h1V312.2h1V311.3h1V310.3h1V311.4h1V312.6h1V311.4h1V312.2h1V308.7h1V311.0h1V311.5h1V310.8h1V311.1h1V308.5h1V312.4h1V311.4h1V311.9h1V310.9h1V312.8h1V310.6h1V312.7h1V312.6h1V311.4h1V311.6h1V313.5h1V312.7h1V306.4h1V313.7h1V313.9h1V313.7h1V311.4h1V310.5h1V310.3h1V312.6h1V310.6h1V311.5h1V311.8h1V311.6h1V308.8h1V313.1h1V310.9h1V308.5h1V312.0h1V313.6h1V310.6h1V311.2h1V313.4h1V310.5h1V312.6h1V312.5h1V312.3h1V311.1h1V312.2h1V311.4h1V311.3h1V312.8h1V311.7h1V312.3h1V311.4h1V306.1h1V310.4h1V310.9h1V310.6h1V312.3h1V312.3h1V309.7h1V313.1h1V310.7h1V313.0h1V311.5h1V311.1h1V312.5h1V311.0h1V312.6h1V308.7h1V312.2h1V313.2h1V311.7h1V310.7h1V313.0h1V311.5h1V310.2h1V311.4h1V312.6h1V309.2h1V311.3h1V312.7h1V312.3h1V310.7h1V313.3h1V313.5h1V312.6h1V311.8h1V310.4h1V311.7h1V311.7h1V310.5h1V310.7h1V312.5h1V310.4h1V312.7h1V312.6h1V312.9h1V313.8h1V308.6h1V311.3h1V312.0h1V310.8h1V310.0h1V311.8h1V313.6h1V313.0h1V312.6h1V310.2h1V310.4h1V307.2h1V313.4h1V311.6h1V312.1h1V312.6h1V312.1h1V305.5h1V311.4h1V309.5h1V313.4h1V311.4h1V312.0h1V310.3h1V310.3h1V313.9h1V311.3h1V312.9h1V312.5h1V312.3h1V310.9h1V311.7h1V312.0h1V313.6h1V313.3h1V313.3h1V313.9h0.7V317.8Z"/>
<line x1="415.1" y1="306.8" x2="415.1" y2="317.8" class="ax"/>
<line x1="412.7" y1="317.80" x2="415.1" y2="317.80" class="ax"/>
<line x1="412.7" y1="315.60" x2="415.1" y2="315.60" class="ax"/>
<line x1="412.7" y1="313.40" x2="415.1" y2="313.40" class="ax"/>
<line x1="412.7" y1="311.20" x2="415.1" y2="311.20" class="ax"/>
<line x1="412.7" y1="309.00" x2="415.1" y2="309.00" class="ax"/>
<line x1="412.7" y1="306.80" x2="415.1" y2="306.80" class="ax"/>
<text x="411.3" y="308.8" class="yl" text-anchor="end">20</text>
<text x="411.3" y="319.8" class="yl" text-anchor="end">0</text>
<path d="M425.2 333.4V328.6h1V328.7h1V329.3h1V329.6h1V327.8h1V327.9h1V326.8h1V328.3h1V327.3h1V325.9h1V326.0h1V327.2h1V327.1h1V329.0h1V326.9h1V329.1h1V328.0h1V327.7h1V326.8h1V327.8h1V327.2h1V327.3h1V328.8h1V326.9h1V327.3h1V326.5h1V326.7h1V324.3h1V326.4h1V325.6h1V326.8h1V325.6h1V325.7h1V329.0h1V322.1h1V328.3h1V328.7h1V326.6h1V325.8h1V326.2h1V328.9h1V328.4h1V326.6h1V324.4h1V327.0h1V326.2h1V328.1h1V327.9h1V326.4h1V321.7h1V326.6h1V326.7h1V328.8h1V326.1h1V327.3h1V328.7h1V326.2h1V325.6h1V328.8h1V327.3h1V326.0h1V327.0h1V326.1h1V327.3h1V329.2h1V323.0h1V328.1h1V329.3h1V327.0h1V321.5h1V328.9h1V324.0h1V323.0h1V328.6h1V326.6h1V328.1h1V328.5h1V327.1h1V329.1h1V325.8h1V327.4h1V328.5h1V328.2h1V326.2h1V328.9h1V329.5h1V326.6h1V327.4h1V322.7h1V324.6h1V327.2h1V327.9h1V325.4h1V327.9h1V328.2h1V326.1h1V327.6h1V328.4h1V328.6h1V326.7h1V324.7h1V326.6h1V325.9h1V328.3h1V328.5h1V327.2h1V325.3h1V328.8h1V326.6h1V325.2h1V327.4h1V327.4h1V326.7h1V326.2h1V326.3h1V328.4h1V326.0h1V327.6h1V327.2h1V327.2h1V328.2h1V328.8h1V326.5h1V328.8h1V326.2h1V327.9h1V327.9h1V326.8h1V325.9h1V328.9h1V327.8h1V327.5h1V327.4h1V328.5h1V326.8h1V326.7h1V329.0h1V328.5h1V327.5h1V324.6h1V327.1h1V323.3h1V325.6h1V322.0h1V327.9h1V329.3h1V326.8h1V327.7h1V328.9h1V327.6h1V326.4h1V326.4h1V328.2h1V328.0h1.3V333.4Z"/>
<line x1="415.1" y1="322.4" x2="415.1" y2="333.4" class="ax"/>
<line x1="412.7" y1="333.43" x2="415.1" y2="333.43" class="ax"/>
<line x1="412.7" y1="331.23" x2="415.1" y2="331.23" class="ax"/>
<line x1="412.7" y1="329.03" x2="415.1" y2="329.03" class="ax"/>
<line x1="412.7" y1="326.83" x2="415.1" y2="326.83" class="ax"/>
<line x1="412.7" y1="324.63" x2="415.1" y2="324.63" class="ax"/>
<line x1="412.7" y1="322.43" x2="415.1" y2="322.43" class="ax"/>
<text x="411.3" y="324.4" class="yl" text-anchor="end">30</text>
<text x="411.3" y="335.4" class="yl" text-anchor="end">0</text>
<path d="M425.2 349.1V343.9h1V342.7h1V344.1h1V342.0h1V342.7h1V340.8h1V343.5h1V338.2h1V340.2h1V343.2h1V343.0h1V343.0h1V342.1h1V341.8h1V342.8h1V343.4h1V341.8h1V342.5h1V342.1h1V337.8h1V343.8h1V341.5h1V342.9h1V343.7h1V344.2h1V343.9h1V337.3h1V342.8h1V341.4h1V343.0h1V341.2h1V341.3h1V343.0h1V343.5h1V338.6h1V343.7h1V341.6h1V344.0h1V342.4h1V342.7h1V343.4h1V340.1h1V341.8h1V344.5h1V340.2h1V343.1h1V344.8h1V342.5h1V338.4h1V341.5h1V341.8h1V341.1h1V343.3h1V341.0h1V344.6h1V344.6h1V344.2h1V343.7h1V340.3h1V344.1h1V341.8h1V337.3h1V340.6h1V341.9h1V342.8h1V343.7h1V340.9h1V343.2h1V344.5h1V343.6h1V344.2h1V344.1h1V342.6h1V342.2h1V342.4h1V342.8h1V341.9h1V342.1h1V341.7h1V344.6h1V337.4h1V337.4h1V339.5h1V343.3h1V343.3h1V344.9h1V344.8h1V342.0h1V341.3h1V343.6h1V341.9h1V344.6h1V341.5h1V340.5h1V342.4h1V343.6h1V342.8h1V341.1h1V343.2h1V343.1h1V343.2h1V342.6h1V337.7h1V340.1h1V342.9h1V343.8h1V343.3h1V341.8h1V342.1h1V342.2h1V340.0h1V337.5h1V342.0h1V344.1h1V345.0h1V344.8h1V338.9h1V341.8h1V341.7h1V344.1h1V340.5h1V342.1h1V343.8h1V345.0h1V345.2h1V343.3h1V343.9h1V345.0h1V344.8h1V340.3h1V341.3h1V344.4h1V342.3h1V340.3h1V341.5h1V344.3h1V344.7h1V338.8h1V343.6h1V343.9h1V342.7h1V343.0h1V343.9h1V343.3h1V344.2h1V337.6h1V340.7h1V343.2h1V342.9h1V342.2h1V344.1h1V342.0h1V344.6h1V343.8h1V345.0h1V341.7h1V344.2h1V343.7h1V341.9h1V342.8h1V340.5h1V343.2h1V341.3h1V343.6h1V344.9h1V342.9h1V341.6h1V341.7h1V342.6h1V342.1h1V340.8h1V342.0h1V343.0h1V343.1h1V343.7h1V342.1h1V337.1h1V344.9h1V338.6h1V344.2h1V342.8h1V343.4h1V341.7h1V342.3h1V342.7h1V342.0h1V343.0h1V338.0h1V344.8h1V341.6h1.4V349.1Z"/>
<line x1="415.1" y1="338.1" x2="415.1" y2="349.1" class="ax"/>
<line x1="412.7" y1="349.06" x2="415.1" y2="349.06" class="ax"/>
<line x1="412.7" y1="346.86" x2="415.1" y2="346.86" class="ax"/>
<line x1="412.7" y1="344.66" x2="415.1" y2="344.66" class="ax"/>
<line x1="412.7" y1="342.46" x2="415.1" y2="342.46" class="ax"/>
<line x1="412.7" y1="340.26" x2="415.1" y2="340.26" class="ax"/>
<line x1="412.7" y1="338.06" x2="415.1" y2="338.06" class="ax"/>
<text x="411.3" y="340.1" class="yl" text-anchor="end">30</text>
<text x="411.3" y="351.1" class="yl" text-anchor="end">0</text>
<path d="M425.2 364.7V359.0h1V359.3h1V353.9h1V353.1h1V359.9h1V358.9h1V359.7h1V355.2h1V357.3h1V357.1h1V357.5h1V358.9h1V355.3h1V357.3h1V356.7h1V355.3h1V359.8h1V358.7h1V359.9h1V359.8h1V359.7h1V360.7h1V358.1h1V358.2h1V357.8h1V359.1h1V360.5h1V357.9h1V358.6h1V358.5h1V359.6h1V358.6h1V358.0h1V359.8h1V360.7h1V360.4h1V360.8h1V360.0h1V357.9h1V359.7h1V358.3h1V359.0h1V356.0h1V357.5h1V359.3h1V358.6h1V358.7h1V353.4h1V359.1h1V360.0h1V357.3h1V358.1h1V358.1h1V357.7h1V358.3h1V360.3h1V356.4h1V358.6h1V359.4h1V360.1h1V359.6h1V357.8h1V358.6h1V357.7h1V360.2h1V357.7h1V359.5h1V355.9h1V356.1h1V359.8h1V358.5h1V360.0h1V358.4h1V357.1h1V358.5h1V359.5h1V358.5h1V358.8h1V356.5h1V358.5h1V358.1h1V359.2h1V360.5h1V358.0h1V360.3h1V358.9h1V357.3h1V360.4h1V357.9h1V357.6h1V356.9h1V356.1h1V356.2h1V355.5h1V357.1h1V355.6h1V357.6h1V360.2h1V355.8h1V360.2h1V358.2h1V357.1h1V356.9h1V359.5h1V360.2h1V360.5h1V359.4h1V357.5h1V355.2h1V358.9h1V357.8h1V359.5h1V360.0h1V358.1h1V359.8h1V359.1h1V356.0h1V359.9h1V359.3h1V357.7h1V358.8h1V357.4h1V360.2h1V358.2h1V359.0h1V359.3h1V357.6h1V357.3h1V356.0h1V357.0h1V359.6h1V355.4h1V358.9h1V359.2h1V358.2h1V359.4h1V358.8h1V353.6h1V360.6h1V360.2h1V358.4h1V357.3h1V358.2h1V357.8h1V358.0h1V360.3h1V360.1h1V357.8h1V360.2h1V359.7h1V359.9h1V358.1h1V359.1h1V358.6h1V357.9h1V358.3h1V357.7h1V358.4h1V357.3h1V358.4h1V357.6h1V354.7h1V356.0h1V357.3h1V359.7h1V357.8h1V358.5h1V355.1h1V357.5h1V360.2h1V359.2h1V358.6h1V354.6h1V357.6h1V358.2h1V360.3h1V358.6h1V358.3h1V355.9h1V356.8h1V359.0h1V356.8h1V360.1h1.3V364.7Z"/>
<line x1="415.1" y1="353.7" x2="415.1" y2="364.7" class="ax"/>
<line x1="412.7" y1="364.69" x2="415.1" y2="364.69" class="ax"/>
<line x1="412.7" y1="362.49" x2="415.1" y2="362.49" class="ax"/>
<line x1="412.7" y1="360.29" x2="415.1" y2="360.29" class="ax"/>
<line x1="412.7" y1="358.09" x2="415.1" y2="358.09" class="ax"/>
<line x1="412.7" y1="355.89" x2="415.1" y2="355.89" class="ax"/>
<line x1="412.7" y1="353.69" x2="415.1" y2="353.69" class="ax"/>
<text x="411.3" y="355.7" class="yl" text-anchor="end">30</text>
<text x="411.3" y="366.7" class="yl" text-anchor="end">0</text>
<path d="M433.4 380.3V374.1h1V374.3h1V371.9h1V375.6h1V374.8h1V373.6h1V373.1h1V374.6h1V373.5h1V375.9h1V376.4h1V375.1h1V374.0h1V372.8h1V373.4h1V375.9h1V375.2h1V376.0h1V371.8h1V375.6h1V376.3h1V375.6h1V374.8h1V373.6h1V372.8h1V372.7h1V372.5h1V373.2h1V374.3h1V373.2h1V375.8h1V373.2h1V374.6h1V372.5h1V373.2h1V373.4h1V374.8h1V376.2h1V375.3h1V374.1h1V375.2h1V374.6h1V375.7h1V376.0h1V374.7h1V374.7h1V369.5h1V374.8h1V376.2h1V373.8h1V375.5h1V376.3h1V375.9h1V376.4h1V374.1h1V376.0h1V374.6h1V373.8h1V374.6h1V373.3h1V374.1h1V373.9h1V373.5h1V373.8h1V376.0h1V373.9h1V374.5h1V374.1h1V371.8h1V374.3h1V374.1h1V369.9h1V370.1h1V376.3h1V374.6h1V373.9h1V373.5h1V373.9h1V371.6h1V374.2h1V374.3h1V371.1h1V373.8h1V373.2h1V375.1h1V376.2h1V374.2h1V374.5h1V373.8h1V372.4h1V373.5h1V372.7h1V373.8h1V374.3h1V373.5h1V372.7h1V375.7h1V375.4h1V375.0h1V373.8h1V373.7h1V373.5h1V373.6h1V373.4h1V372.9h1V374.7h1V372.9h1V373.9h1V373.7h1V376.0h1V374.3h1V373.5h1V375.6h1V373.7h1V375.5h1V373.9h1V374.7h1V373.0h1V371.7h1V373.0h1V373.4h1V374.1h1V374.5h1V374.0h1V372.9h1V373.0h1V374.2h1V374.6h1V372.8h1V375.4h1V374.2h1V371.9h1V373.5h1V374.4h1V376.1h1V375.4h1V374.2h1V374.4h1V375.0h1V374.2h1V373.7h1V375.1h1V376.2h1V375.9h1V373.3h1V371.6h1V371.3h1V374.2h1V376.1h1V374.3h1V372.3h1V375.7h1V375.5h1V372.7h1V375.5h1V370.5h1V373.0h1V374.3h1V367.9h1V370.6h1V375.0h1V374.7h1V375.3h1V375.3h1V373.7h1V374.1h1V374.3h1V375.1h1V375.0h1V372.3h1V376.3h1V373.1h1V368.1h1V375.3h1V375.0h1V373.5h1V373.6h1V375.9h1V373.0h1V375.8h1V372.8h1V370.6h1V371.4h1V371.8h1V373.5h1V375.7h1V376.2h1V375.4h1V376.1h1V374.4h1V375.7h1V373.5h1V375.9h1V375.3h1V373.0h1V371.6h1V375.2h1V370.3h1V370.0h1V373.6h1.5V380.3Z"/>
<line x1="415.1" y1="369.3" x2="415.1" y2="380.3" class="ax"/>
<line x1="412.7" y1="380.32" x2="415.1" y2="380.32" class="ax"/>
<line x1="412.7" y1="378.12" x2="415.1" y2="378.12" class="ax"/>
<line x1="412.7" y1="375.92" x2="415.1" y2="375.92" class="ax"/>
<line x1="412.7" y1="373.72" x2="415.1" y2="373.72" class="ax"/>
<line x1="412.7" y1="371.52" x2="415.1" y2="371.52" class="ax"/>
<line x1="412.7" y1="369.32" x2="415.1" y2="369.32" class="ax"/>
<text x="411.3" y="371.3" class="yl" text-anchor="end">30</text>
<text x="411.3" y="382.3" class="yl" text-anchor="end">0</text>
<path d="M425.2 396.0V391.3h1V388.5h1V389.5h1V385.4h1V388.3h1V391.4h1V391.4h1V390.1h1V390.4h1V389.5h1V389.8h1V390.8h1V388.3h1V387.6h1V389.7h1V388.2h1V390.8h1V391.7h1V391.2h1V391.8h1V386.7h1V391.3h1V389.4h1V390.1h1V389.4h1V388.3h1V390.2h1V387.2h1V391.3h1V390.5h1V389.3h1V391.6h1V383.9h1V389.7h1V384.3h1V385.8h1V389.9h1V391.3h1V391.4h1V386.8h1V391.0h1V388.3h1V390.5h1V384.5h1V389.4h1V386.9h1V383.8h1V388.0h1V388.0h1V389.7h1V389.7h1V386.8h1V390.7h1V389.8h1V388.1h1V387.3h1V388.6h1V390.8h1V390.3h1V389.9h1V389.6h1V389.7h1V390.8h1V391.9h1V392.1h1V388.6h1V390.7h1V390.3h1V389.2h1V391.6h1V392.0h1V390.1h1V391.7h1V391.8h1V389.2h1V387.5h1V389.2h1V389.2h1V388.5h1V388.3h1V391.1h1V386.4h1V390.8h1V390.8h1V388.7h1V391.0h1V391.9h1V389.8h1V390.2h1V391.8h1V391.6h1V388.7h1V390.6h1V389.4h1V389.2h1V388.0h1V387.9h1V391.3h1V392.0h1V392.1h1V384.4h1V388.5h1V391.4h1V389.7h1V389.6h1V389.6h1V389.3h1V385.1h1V389.7h1V383.7h1V383.7h1V391.3h1V388.0h1V388.1h1V386.6h1V389.7h1V389.3h1V390.6h1V389.4h1V391.6h1V391.0h1V388.3h1V387.1h1V387.9h1V388.5h1V388.0h1V388.3h1V389.0h1V389.3h1V389.2h1V390.8h1V389.3h1V389.1h1V390.7h1V390.3h1V391.8h1V391.3h1V390.1h1V387.8h1V387.6h1V386.1h1V388.5h1V389.4h1V389.1h1V387.4h1V386.5h1V387.7h1V388.1h1V388.7h1V385.7h1V388.8h1V386.9h1V390.7h1V387.3h1V391.2h1V390.4h1V391.5h1V390.8h1V388.0h1V389.8h1V389.1h1V389.4h1V390.2h1V391.8h1V388.9h1V389.3h1V388.5h1V390.7h1V391.6h1V390.5h1V391.8h1V392.1h1V386.6h1V390.7h1V388.9h1V387.2h1V391.0h1V388.5h1V387.8h1V390.5h1V390.6h1V390.2h1V389.6h1V383.8h1V389.4h1V387.9h1V391.0h1V389.9h1V388.1h1V388.8h1V391.1h1V389.3h1V390.1h1V385.8h0.9V396.0Z"/>
<line x1="415.1" y1="385.0" x2="415.1" y2="396.0" class="ax"/>
<line x1="412.7" y1="395.95" x2="415.1" y2="395.95" class="ax"/>
<line x1="412.7" y1="393.75" x2="415.1" y2="393.75" class="ax"/>
<line x1="412.7" y1="391.55" x2="415.1" y2="391.55" class="ax"/>
<line x1="412.7" y1="389.35" x2="415.1" y2="389.35" class="ax"/>
<line x1="412.7" y1="387.15" x2="415.1" y2="387.15" class="ax"/>
<line x1="412.7" y1="384.95" x2="415.1" y2="384.95" class="ax"/>
<text x="411.3" y="387.0" class="yl" text-anchor="end">30</text>
<text x="411.3" y="398.0" class="yl" text-anchor="end">0</text>
<path d="M425.2 411.6V400.4h1V404.9h1V407.2h1V406.4h1V404.6h1V403.7h1V401.4h1V405.2h1V404.4h1V406.5h1V404.2h1V404.6h1V404.9h1V406.2h1V405.4h1V405.8h1V407.4h1V407.7h1V407.8h1V407.1h1V406.3h1V407.3h1V407.7h1V407.6h1V406.2h1V406.6h1V404.3h1V405.3h1V405.4h1V407.3h1V405.4h1V404.8h1V405.7h1V407.4h1V407.1h1V406.5h1V404.3h1V403.3h1V404.4h1V404.9h1V407.2h1V407.7h1V407.2h1V405.8h1V406.7h1V402.7h1V404.0h1V406.8h1V405.5h1V405.7h1V405.6h1V406.8h1V404.0h1V405.1h1V406.7h1V407.4h1V405.6h1V405.5h1V401.5h1V406.3h1V407.5h1V406.3h1V406.7h1V405.5h1V404.5h1V402.5h1V404.8h1V404.3h1V406.2h1V405.6h1V406.1h1V405.7h1V406.8h1V405.1h1V406.5h1V407.2h1V406.8h1V405.9h1V406.7h1V407.5h1V405.9h1V401.9h1V404.1h1V407.0h1V406.8h1V406.5h1V406.1h1V404.8h1V404.6h1V404.6h1V404.4h1V405.5h1V400.9h1V407.0h1V402.8h1V404.3h1V407.1h1V400.3h1V406.4h1V405.9h1V407.4h1V405.1h1V406.4h1V402.3h1V401.7h1V404.7h1V401.1h1V407.7h1V401.2h1V405.6h1V403.3h1V405.5h1V401.9h1V403.2h1V405.6h1V406.2h1V405.9h1V404.3h1V406.0h1V406.0h1V406.9h1V402.4h1V407.5h1V406.9h1V407.3h1V399.2h1V406.2h1V399.9h1V404.5h1V404.1h1V406.3h1V406.4h1V405.6h1V404.7h1V404.1h1V406.5h1V402.2h1V405.1h1V407.2h1V405.6h1V406.9h1V406.6h1V402.8h1V404.4h1V405.2h1V404.3h1V403.5h1V404.6h1V407.1h1V406.8h1V407.6h1V404.3h1V405.4h1V406.1h1V406.4h1V407.2h1V406.3h1V406.0h1V406.9h1V406.5h1V407.2h1V405.7h1V405.4h1V403.6h1V404.8h1V406.7h1V405.4h1V400.3h1V404.6h1V406.5h1V399.8h1V405.1h1V407.2h1V406.4h1V404.3h1.2V411.6Z"/>
<line x1="415.1" y1="400.6" x2="415.1" y2="411.6" class="ax"/>
<line x1="412.7" y1="411.58" x2="415.1" y2="411.58" class="ax"/>
<line x1="412.7" y1="409.38" x2="415.1" y2="409.38" class="ax"/>
<line x1="412.7" y1="407.18" x2="415.1" y2="407.18" class="ax"/>
<line x1="412.7" y1="404.98" x2="415.1" y2="404.98" class="ax"/>
<line x1="412.7" y1="402.78" x2="415.1" y2="402.78" class="ax"/>
<line x1="412.7" y1="400.58" x2="415.1" y2="400.58" class="ax"/>
<text x="411.3" y="402.6" class="yl" text-anchor="end">30</text>
<text x="411.3" y="413.6" class="yl" text-anchor="end">0</text>
<path d="M426.9 427.2V420.1h1V422.7h1V420.7h1V417.3h1V423.3h1V420.9h1V421.0h1V420.4h1V420.1h1V418.5h1V420.8h1V422.6h1V422.6h1V421.4h1V419.3h1V422.6h1V423.2h1V418.3h1V422.9h1V421.2h1V420.0h1V422.7h1V422.1h1V419.8h1V422.3h1V421.6h1V419.6h1V419.2h1V422.6h1V422.5h1V420.4h1V420.2h1V419.7h1V419.8h1V420.1h1V418.7h1V419.7h1V420.3h1V421.6h1V420.1h1V421.7h1V417.5h1V421.8h1V419.0h1V422.5h1V421.1h1V422.9h1V419.5h1V420.8h1V420.9h1V422.7h1V421.7h1V421.5h1V422.2h1V423.2h1V422.2h1V422.1h1V421.4h1V422.8h1V421.9h1V420.7h1V416.8h1V418.8h1V417.1h1V421.4h1V420.5h1V422.8h1V422.1h1V422.6h1V421.9h1V421.6h1V420.0h1V420.2h1V417.7h1V422.9h1V423.3h1V423.4h1V422.2h1V420.6h1V422.8h1V416.6h1V415.9h1V419.8h1V422.3h1V419.2h1V419.4h1V419.9h1V419.5h1V419.6h1V420.6h1V422.0h1V419.3h1V415.6h1V421.0h1V421.9h1V417.0h1V422.2h1V421.3h1V421.0h1V422.8h1V417.0h1V421.2h1V423.0h1V421.9h1V421.8h1V417.1h1V419.8h1V421.5h1V421.5h1V421.5h1V422.7h1V421.2h1V421.7h1V421.7h1V422.2h1V420.5h1V422.8h1V421.9h1V420.4h1V422.0h1V422.1h1V419.5h1V421.2h1V419.7h1V421.1h1V422.1h1V421.6h1V421.4h1V422.1h1V418.7h1V421.2h1V421.3h1V422.6h1V421.0h1V421.2h1V420.9h1V420.2h1V421.8h1V416.4h1V422.3h1V420.7h1V420.1h1V420.2h1V421.4h1V418.9h1V421.3h1V420.9h1V421.6h1V422.3h1V422.5h1V422.7h1V420.7h1V421.6h1V421.7h1V421.3h1V420.6h1V418.7h1V420.4h1V422.2h1V420.1h1V422.0h1V423.0h1V421.9h1V422.4h1V422.1h1V420.1h1V421.3h1V423.0h1V416.3h1V419.2h1V421.1h1V422.7h1V423.1h1V421.1h0.8V427.2Z"/>
<line x1="415.1" y1="416.2" x2="415.1" y2="427.2" class="ax"/>
<line x1="412.7" y1="427.21" x2="415.1" y2="427.21" class="ax"/>
<line x1="412.7" y1="425.01" x2="415.1" y2="425.01" class="ax"/>
<line x1="412.7" y1="422.81" x2="415.1" y2="422.81" class="ax"/>
<line x1="412.7" y1="420.61" x2="415.1" y2="420.61" class="ax"/>
<line x1="412.7" y1="418.41" x2="415.1" y2="418.41" class="ax"/>
<line x1="412.7" y1="416.21" x2="415.1" y2="416.21" class="ax"/>
<text x="411.3" y="418.2" class="yl" text-anchor="end">30</text>
<text x="411.3" y="429.2" class="yl" text-anchor="end">0</text>
<path d="M425.2 442.8V438.1h1V436.0h1V437.0h1V436.8h1V438.6h1V432.9h1V435.7h1V436.9h1V435.2h1V436.5h1V436.3h1V434.8h1V437.6h1V438.1h1V436.8h1V434.8h1V431.4h1V433.5h1V437.9h1V438.7h1V439.0h1V436.7h1V436.5h1V437.3h1V438.4h1V435.5h1V435.6h1V438.2h1V436.8h1V438.3h1V435.2h1V438.6h1V438.9h1V435.0h1V437.0h1V434.7h1V436.0h1V437.2h1V438.7h1V433.9h1V436.2h1V435.9h1V435.6h1V436.1h1V435.0h1V436.0h1V433.5h1V436.6h1V436.7h1V433.5h1V435.8h1V434.2h1V437.0h1V437.7h1V435.5h1V435.4h1V436.3h1V435.8h1V436.3h1V437.7h1V435.9h1V435.4h1V438.3h1V437.4h1V437.5h1V435.7h1V438.4h1V434.5h1V437.4h1V438.3h1V435.6h1V436.2h1V436.5h1V436.0h1V433.5h1V437.1h1V436.9h1V436.0h1V437.5h1V436.3h1V436.2h1V437.1h1V437.4h1V437.1h1V437.4h1V437.4h1V435.7h1V434.1h1V438.1h1V436.1h1V435.4h1V437.2h1V438.7h1V434.9h1V436.0h1V435.9h1V436.8h1V438.3h1V438.5h1V438.9h1V436.6h1V438.6h1V437.4h1V434.6h1V435.8h1V436.4h1V437.7h1V435.5h1V435.9h1V438.7h1V431.3h1V434.6h1V435.2h1V437.4h1V437.6h1V438.1h1V437.4h1V435.5h1V435.2h1V437.5h1V436.5h1V438.4h1V435.6h1V433.7h1V436.6h1V437.2h1V435.6h1V436.0h1V431.4h1V436.7h1V435.3h1V438.1h1V436.2h1V433.5h1V434.3h1V435.8h1V437.6h1V435.8h1V435.5h1V433.5h1V436.4h1V433.5h1V438.0h1V437.1h1V438.7h1V435.8h1V437.0h1V435.4h1V436.5h1V438.5h1V437.7h1V436.7h1V435.6h1V438.6h1V432.7h1V437.0h1V437.7h1V434.7h1V437.5h1V435.7h1V435.3h1V436.8h1V436.4h1V433.7h1V436.5h1V435.7h1V437.0h1V436.8h1V437.0h1V437.0h1V438.3h1V435.9h1V435.7h1V437.5h1V437.5h1V438.5h1V436.7h1V436.4h1V436.8h1V436.2h1V435.8h1V436.3h1V436.1h1V437.7h1V438.2h1V438.9h1V439.0h1V436.2h1V436.1h1V434.2h1V437.0h1V438.2h1V436.3h1V437.2h1V438.3h1V436.3h1V436.6h1V437.3h1V437.4h1V437.2h1V437.5h1V437.6h1V436.6h1V434.6h1V436.1h1V437.2h1V432.2h1.4V442.8Z"/>
<line x1="415.1" y1="431.8" x2="415.1" y2="442.8" class="ax"/>
<line x1="412.7" y1="442.84" x2="415.1" y2="442.84" class="ax"/>
<line x1="412.7" y1="440.64" x2="415.1" y2="440.64" class="ax"/>
<line x1="412.7" y1="438.44" x2="415.1" y2="438.44" class="ax"/>
<line x1="412.7" y1="436.24" x2="415.1" y2="436.24" class="ax"/>
<line x1="412.7" y1="434.04" x2="415.1" y2="434.04" class="ax"/>
<line x1="412.7" y1="431.84" x2="415.1" y2="431.84" class="ax"/>
<text x="411.3" y="433.8" class="yl" text-anchor="end">30</text>
<text x="411.3" y="444.8" class="yl" text-anchor="end">0</text>
<path d="M425.2 458.5V452.2h1V452.5h1V452.6h1V451.4h1V453.9h1V451.5h1V451.0h1V452.2h1V453.8h1V452.3h1V449.5h1V452.1h1V452.7h1V451.9h1V454.1h1V453.8h1V453.9h1V451.8h1V452.4h1V453.7h1V454.4h1V451.7h1V451.6h1V451.9h1V454.1h1V452.3h1V454.2h1V451.3h1V452.7h1V449.3h1V453.0h1V450.9h1V454.5h1V452.8h1V451.5h1V451.7h1V454.1h1V453.2h1V454.0h1V453.0h1V452.2h1V451.6h1V452.8h1V453.6h1V451.8h1V446.1h1V448.4h1V449.8h1V451.3h1V453.9h1V450.3h1V453.1h1V453.5h1V453.5h1V451.3h1V451.1h1V450.7h1V447.5h1V452.8h1V452.7h1V451.4h1V451.0h1V451.7h1V454.1h1V454.6h1V452.1h1V452.3h1V454.2h1V453.0h1V451.1h1V452.8h1V452.3h1V453.3h1V451.3h1V446.9h1V451.9h1V452.6h1V454.3h1V451.8h1V450.0h1V451.6h1V451.9h1V451.3h1V451.4h1V449.4h1V452.5h1V451.6h1V453.2h1V450.4h1V452.4h1V453.9h1V452.3h1V449.7h1V451.5h1V453.9h1V452.1h1V453.6h1V450.7h1V453.9h1V452.6h1V451.2h1V452.9h1V450.5h1V450.0h1V451.3h1V450.5h1V451.3h1V451.2h1V454.0h1V453.0h1V452.9h1V451.7h1V451.3h1V453.5h1V451.2h1V451.8h1V451.7h1V451.9h1V449.7h1V452.6h1V451.3h1V452.1h1V452.2h1V452.0h1V454.1h1V453.4h1V447.8h1V450.7h1V453.2h1V452.9h1V452.8h1V452.2h1V451.8h1V449.6h1V451.2h1V454.0h1V453.3h1V451.6h1V453.1h1V452.5h1V451.2h1V453.6h1V454.5h1V452.9h1V453.8h1V452.8h1V453.0h1V449.4h1V447.5h1V450.7h1V451.0h1V452.6h1V452.5h1V450.1h1V452.9h1V451.1h1V452.5h1V451.8h1V453.8h1V453.8h1V454.5h1V452.5h1V449.6h1V451.7h1V451.4h1V453.8h1V453.4h1V451.8h1V450.3h1V452.5h1V454.2h1V451.7h1V452.6h1V454.2h1V448.7h1V454.2h1V452.1h1V451.6h1V451.8h1V447.6h1V453.4h1V452.2h1V454.2h1V454.1h1V454.6h1V454.1h1V447.4h1V452.2h1V451.4h0.7V458.5Z"/>
<line x1="415.1" y1="447.5" x2="415.1" y2="458.5" class="ax"/>
<line x1="412.7" y1="458.47" x2="415.1" y2="458.47" class="ax"/>
<line x1="412.7" y1="456.27" x2="415.1" y2="456.27" class="ax"/>
<line x1="412.7" y1="454.07" x2="415.1" y2="454.07" class="ax"/>
<line x1="412.7" y1="451.87" x2="415.1" y2="451.87" class="ax"/>
<line x1="412.7" y1="449.67" x2="415.1" y2="449.67" class="ax"/>
<line x1="412.7" y1="447.47" x2="415.1" y2="447.47" class="ax"/>
<text x="411.3" y="449.5" class="yl" text-anchor="end">30</text>
<text x="411.3" y="460.5" class="yl" text-anchor="end">0</text>
<line x1="413.1" y1="458.8" x2="643.6" y2="458.8" class="ax"/>
<line x1="425.4" y1="458.8" x2="425.4" y2="460.8" class="ax"/>
<text x="425.4" y="466.2" class="xl" text-anchor="middle">0.0e+00</text>
<line x1="490.4" y1="458.8" x2="490.4" y2="460.8" class="ax"/>
<text x="490.4" y="466.2" class="xl" text-anchor="middle">5.0e+07</text>
<line x1="555.4" y1="458.8" x2="555.4" y2="460.8" class="ax"/>
<text x="555.4" y="466.2" class="xl" text-anchor="middle">1.0e+08</text>
<line x1="620.4" y1="458.8" x2="620.4" y2="460.8" class="ax"/>
<text x="620.4" y="466.2" class="xl" text-anchor="middle">1.5e+08</text>
<text x="491.1" y="475.2" class="xt">Chromosome Size (bp)</text>
</svg>
</body></html>
